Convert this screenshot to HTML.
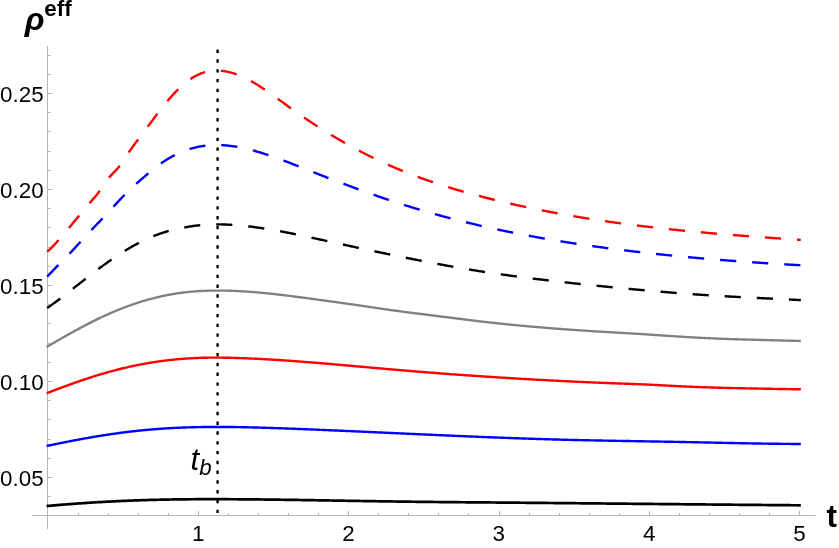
<!DOCTYPE html>
<html><head><meta charset="utf-8"><title>plot</title>
<style>
html,body{margin:0;padding:0;background:#fff;}
body{width:839px;height:548px;overflow:hidden;}
svg{display:block;}
text{font-family:"Liberation Sans",sans-serif;}
</style></head><body>
<svg width="839" height="548" viewBox="0 0 839 548">
<rect width="839" height="548" fill="#fff"/>
<g stroke="#b5b5b5" stroke-width="1" fill="none" shape-rendering="auto">
<line x1="32" y1="515.5" x2="815.6" y2="515.5"/>
<line x1="47.5" y1="46" x2="47.5" y2="529"/>
<line x1="78.50" y1="515.5" x2="78.50" y2="513.00"/>
<line x1="108.50" y1="515.5" x2="108.50" y2="513.00"/>
<line x1="138.50" y1="515.5" x2="138.50" y2="513.00"/>
<line x1="168.50" y1="515.5" x2="168.50" y2="513.00"/>
<line x1="198.50" y1="515.5" x2="198.50" y2="510.90"/>
<line x1="228.50" y1="515.5" x2="228.50" y2="513.00"/>
<line x1="258.50" y1="515.5" x2="258.50" y2="513.00"/>
<line x1="288.50" y1="515.5" x2="288.50" y2="513.00"/>
<line x1="318.50" y1="515.5" x2="318.50" y2="513.00"/>
<line x1="348.50" y1="515.5" x2="348.50" y2="510.90"/>
<line x1="378.50" y1="515.5" x2="378.50" y2="513.00"/>
<line x1="408.50" y1="515.5" x2="408.50" y2="513.00"/>
<line x1="438.50" y1="515.5" x2="438.50" y2="513.00"/>
<line x1="468.50" y1="515.5" x2="468.50" y2="513.00"/>
<line x1="499.50" y1="515.5" x2="499.50" y2="510.90"/>
<line x1="529.50" y1="515.5" x2="529.50" y2="513.00"/>
<line x1="559.50" y1="515.5" x2="559.50" y2="513.00"/>
<line x1="589.50" y1="515.5" x2="589.50" y2="513.00"/>
<line x1="619.50" y1="515.5" x2="619.50" y2="513.00"/>
<line x1="649.50" y1="515.5" x2="649.50" y2="510.90"/>
<line x1="679.50" y1="515.5" x2="679.50" y2="513.00"/>
<line x1="709.50" y1="515.5" x2="709.50" y2="513.00"/>
<line x1="739.50" y1="515.5" x2="739.50" y2="513.00"/>
<line x1="769.50" y1="515.5" x2="769.50" y2="513.00"/>
<line x1="799.50" y1="515.5" x2="799.50" y2="510.90"/>
<line x1="47.5" y1="496.50" x2="50.50" y2="496.50"/>
<line x1="47.5" y1="477.50" x2="52.70" y2="477.50"/>
<line x1="47.5" y1="458.50" x2="50.50" y2="458.50"/>
<line x1="47.5" y1="439.50" x2="50.50" y2="439.50"/>
<line x1="47.5" y1="419.50" x2="50.50" y2="419.50"/>
<line x1="47.5" y1="400.50" x2="50.50" y2="400.50"/>
<line x1="47.5" y1="381.50" x2="52.70" y2="381.50"/>
<line x1="47.5" y1="362.50" x2="50.50" y2="362.50"/>
<line x1="47.5" y1="343.50" x2="50.50" y2="343.50"/>
<line x1="47.5" y1="323.50" x2="50.50" y2="323.50"/>
<line x1="47.5" y1="304.50" x2="50.50" y2="304.50"/>
<line x1="47.5" y1="285.50" x2="52.70" y2="285.50"/>
<line x1="47.5" y1="266.50" x2="50.50" y2="266.50"/>
<line x1="47.5" y1="247.50" x2="50.50" y2="247.50"/>
<line x1="47.5" y1="227.50" x2="50.50" y2="227.50"/>
<line x1="47.5" y1="208.50" x2="50.50" y2="208.50"/>
<line x1="47.5" y1="189.50" x2="52.70" y2="189.50"/>
<line x1="47.5" y1="170.50" x2="50.50" y2="170.50"/>
<line x1="47.5" y1="151.50" x2="50.50" y2="151.50"/>
<line x1="47.5" y1="131.50" x2="50.50" y2="131.50"/>
<line x1="47.5" y1="112.50" x2="50.50" y2="112.50"/>
<line x1="47.5" y1="93.50" x2="52.70" y2="93.50"/>
<line x1="47.5" y1="74.50" x2="50.50" y2="74.50"/>
<line x1="47.5" y1="55.50" x2="50.50" y2="55.50"/>
</g>
<line x1="217.58" y1="49.55" x2="217.58" y2="513" stroke="#000" stroke-width="2.35" stroke-dasharray="3.4 6.39" fill="none"/>
<path d="M46.6 506.03 L47.0 505.99 L48.0 505.90 L49.0 505.82 L50.0 505.73 L51.0 505.64 L52.0 505.55 L53.0 505.47 L54.0 505.38 L55.0 505.30 L56.0 505.22 L57.0 505.13 L58.0 505.05 L59.0 504.97 L60.0 504.89 L61.0 504.80 L62.0 504.72 L63.0 504.64 L64.0 504.56 L65.0 504.49 L66.0 504.41 L67.0 504.33 L68.0 504.25 L69.0 504.18 L70.0 504.10 L71.0 504.03 L72.0 503.95 L73.0 503.88 L74.0 503.80 L75.0 503.73 L76.0 503.66 L77.0 503.59 L78.0 503.51 L79.0 503.44 L80.0 503.37 L81.0 503.30 L82.0 503.23 L83.0 503.17 L84.0 503.10 L85.0 503.03 L86.0 502.97 L87.0 502.90 L88.0 502.83 L89.0 502.77 L90.0 502.70 L91.0 502.64 L92.0 502.58 L93.0 502.52 L94.0 502.45 L95.0 502.39 L96.0 502.33 L97.0 502.27 L98.0 502.21 L99.0 502.15 L100.0 502.10 L101.0 502.04 L102.0 501.98 L103.0 501.92 L104.0 501.87 L105.0 501.81 L106.0 501.76 L107.0 501.70 L108.0 501.65 L109.0 501.60 L110.0 501.55 L111.0 501.49 L112.0 501.44 L113.0 501.39 L114.0 501.34 L115.0 501.29 L116.0 501.24 L117.0 501.20 L118.0 501.15 L119.0 501.10 L120.0 501.06 L121.0 501.01 L122.0 500.96 L123.0 500.92 L124.0 500.88 L125.0 500.83 L126.0 500.79 L127.0 500.75 L128.0 500.71 L129.0 500.67 L130.0 500.63 L131.0 500.59 L132.0 500.55 L133.0 500.51 L134.0 500.47 L135.0 500.44 L136.0 500.40 L137.0 500.36 L138.0 500.33 L139.0 500.29 L140.0 500.26 L141.0 500.23 L142.0 500.19 L143.0 500.16 L144.0 500.13 L145.0 500.10 L146.0 500.07 L147.0 500.04 L148.0 500.01 L149.0 499.98 L150.0 499.95 L151.0 499.93 L152.0 499.90 L153.0 499.87 L154.0 499.85 L155.0 499.82 L156.0 499.80 L157.0 499.77 L158.0 499.75 L159.0 499.73 L160.0 499.70 L161.0 499.68 L162.0 499.66 L163.0 499.64 L164.0 499.62 L165.0 499.60 L166.0 499.58 L167.0 499.56 L168.0 499.55 L169.0 499.53 L170.0 499.51 L171.0 499.49 L172.0 499.48 L173.0 499.46 L174.0 499.45 L175.0 499.43 L176.0 499.42 L177.0 499.40 L178.0 499.39 L179.0 499.38 L180.0 499.37 L181.0 499.35 L182.0 499.34 L183.0 499.33 L184.0 499.32 L185.0 499.31 L186.0 499.30 L187.0 499.29 L188.0 499.28 L189.0 499.27 L190.0 499.26 L191.0 499.26 L192.0 499.25 L193.0 499.24 L194.0 499.24 L195.0 499.23 L196.0 499.22 L197.0 499.22 L198.0 499.21 L199.0 499.21 L200.0 499.21 L201.0 499.20 L202.0 499.20 L203.0 499.20 L204.0 499.19 L205.0 499.19 L206.0 499.19 L207.0 499.19 L208.0 499.18 L209.0 499.18 L210.0 499.18 L211.0 499.18 L212.0 499.18 L213.0 499.18 L214.0 499.18 L215.0 499.18 L216.0 499.19 L217.0 499.19 L218.0 499.19 L219.0 499.19 L220.0 499.19 L221.0 499.20 L222.0 499.20 L223.0 499.20 L224.0 499.21 L225.0 499.21 L226.0 499.21 L227.0 499.22 L228.0 499.22 L229.0 499.23 L230.0 499.23 L231.0 499.24 L232.0 499.24 L233.0 499.25 L234.0 499.25 L235.0 499.26 L236.0 499.27 L237.0 499.27 L238.0 499.28 L239.0 499.29 L240.0 499.29 L241.0 499.30 L242.0 499.31 L243.0 499.32 L244.0 499.32 L245.0 499.33 L246.0 499.34 L247.0 499.35 L248.0 499.36 L249.0 499.37 L250.0 499.38 L251.0 499.39 L252.0 499.39 L253.0 499.40 L254.0 499.41 L255.0 499.42 L256.0 499.43 L257.0 499.44 L258.0 499.45 L259.0 499.46 L260.0 499.47 L261.0 499.49 L262.0 499.50 L263.0 499.51 L264.0 499.52 L265.0 499.53 L266.0 499.54 L267.0 499.55 L268.0 499.56 L269.0 499.58 L270.0 499.59 L271.0 499.60 L272.0 499.61 L273.0 499.63 L274.0 499.64 L275.0 499.65 L276.0 499.66 L277.0 499.68 L278.0 499.69 L279.0 499.70 L280.0 499.72 L281.0 499.73 L282.0 499.74 L283.0 499.76 L284.0 499.77 L285.0 499.78 L286.0 499.80 L287.0 499.81 L288.0 499.83 L289.0 499.84 L290.0 499.85 L291.0 499.87 L292.0 499.88 L293.0 499.90 L294.0 499.91 L295.0 499.93 L296.0 499.94 L297.0 499.96 L298.0 499.97 L299.0 499.99 L300.0 500.00 L301.0 500.02 L302.0 500.03 L303.0 500.05 L304.0 500.06 L305.0 500.08 L306.0 500.09 L307.0 500.11 L308.0 500.12 L309.0 500.14 L310.0 500.16 L311.0 500.17 L312.0 500.19 L313.0 500.20 L314.0 500.22 L315.0 500.24 L316.0 500.25 L317.0 500.27 L318.0 500.28 L319.0 500.30 L320.0 500.32 L321.0 500.33 L322.0 500.35 L323.0 500.37 L324.0 500.38 L325.0 500.40 L326.0 500.41 L327.0 500.43 L328.0 500.45 L329.0 500.46 L330.0 500.48 L331.0 500.50 L332.0 500.51 L333.0 500.53 L334.0 500.55 L335.0 500.56 L336.0 500.58 L337.0 500.60 L338.0 500.61 L339.0 500.63 L340.0 500.65 L341.0 500.66 L342.0 500.68 L343.0 500.70 L344.0 500.71 L345.0 500.73 L346.0 500.75 L347.0 500.76 L348.0 500.78 L349.0 500.80 L350.0 500.81 L351.0 500.83 L352.0 500.85 L353.0 500.86 L354.0 500.88 L355.0 500.89 L356.0 500.91 L357.0 500.93 L358.0 500.94 L359.0 500.96 L360.0 500.98 L361.0 500.99 L362.0 501.01 L363.0 501.03 L364.0 501.04 L365.0 501.06 L366.0 501.07 L367.0 501.09 L368.0 501.11 L369.0 501.12 L370.0 501.14 L371.0 501.15 L372.0 501.17 L373.0 501.18 L374.0 501.20 L375.0 501.22 L376.0 501.23 L377.0 501.25 L378.0 501.26 L379.0 501.28 L380.0 501.29 L381.0 501.31 L382.0 501.32 L383.0 501.34 L384.0 501.35 L385.0 501.37 L386.0 501.38 L387.0 501.40 L388.0 501.41 L389.0 501.43 L390.0 501.44 L391.0 501.45 L392.0 501.47 L393.0 501.48 L394.0 501.50 L395.0 501.51 L396.0 501.52 L397.0 501.54 L398.0 501.55 L399.0 501.56 L400.0 501.58 L401.0 501.59 L402.0 501.60 L403.0 501.62 L404.0 501.63 L405.0 501.64 L406.0 501.66 L407.0 501.67 L408.0 501.68 L409.0 501.69 L410.0 501.71 L411.0 501.72 L412.0 501.73 L413.0 501.74 L414.0 501.76 L415.0 501.77 L416.0 501.78 L417.0 501.79 L418.0 501.80 L419.0 501.82 L420.0 501.83 L421.0 501.84 L422.0 501.85 L423.0 501.86 L424.0 501.87 L425.0 501.88 L426.0 501.90 L427.0 501.91 L428.0 501.92 L429.0 501.93 L430.0 501.94 L431.0 501.95 L432.0 501.96 L433.0 501.97 L434.0 501.98 L435.0 501.99 L436.0 502.00 L437.0 502.01 L438.0 502.02 L439.0 502.03 L440.0 502.04 L441.0 502.05 L442.0 502.06 L443.0 502.07 L444.0 502.08 L445.0 502.09 L446.0 502.10 L447.0 502.11 L448.0 502.12 L449.0 502.13 L450.0 502.14 L451.0 502.15 L452.0 502.16 L453.0 502.17 L454.0 502.17 L455.0 502.18 L456.0 502.19 L457.0 502.20 L458.0 502.21 L459.0 502.22 L460.0 502.23 L461.0 502.24 L462.0 502.24 L463.0 502.25 L464.0 502.26 L465.0 502.27 L466.0 502.28 L467.0 502.29 L468.0 502.29 L469.0 502.30 L470.0 502.31 L471.0 502.32 L472.0 502.33 L473.0 502.33 L474.0 502.34 L475.0 502.35 L476.0 502.36 L477.0 502.37 L478.0 502.38 L479.0 502.38 L480.0 502.39 L481.0 502.40 L482.0 502.41 L483.0 502.42 L484.0 502.42 L485.0 502.43 L486.0 502.44 L487.0 502.45 L488.0 502.46 L489.0 502.46 L490.0 502.47 L491.0 502.48 L492.0 502.49 L493.0 502.50 L494.0 502.51 L495.0 502.51 L496.0 502.52 L497.0 502.53 L498.0 502.54 L499.0 502.55 L500.0 502.56 L501.0 502.56 L502.0 502.57 L503.0 502.58 L504.0 502.59 L505.0 502.60 L506.0 502.61 L507.0 502.61 L508.0 502.62 L509.0 502.63 L510.0 502.64 L511.0 502.65 L512.0 502.66 L513.0 502.67 L514.0 502.67 L515.0 502.68 L516.0 502.69 L517.0 502.70 L518.0 502.71 L519.0 502.72 L520.0 502.73 L521.0 502.73 L522.0 502.74 L523.0 502.75 L524.0 502.76 L525.0 502.77 L526.0 502.78 L527.0 502.79 L528.0 502.80 L529.0 502.80 L530.0 502.81 L531.0 502.82 L532.0 502.83 L533.0 502.84 L534.0 502.85 L535.0 502.86 L536.0 502.87 L537.0 502.88 L538.0 502.88 L539.0 502.89 L540.0 502.90 L541.0 502.91 L542.0 502.92 L543.0 502.93 L544.0 502.94 L545.0 502.95 L546.0 502.96 L547.0 502.97 L548.0 502.98 L549.0 502.98 L550.0 502.99 L551.0 503.00 L552.0 503.01 L553.0 503.02 L554.0 503.03 L555.0 503.04 L556.0 503.05 L557.0 503.06 L558.0 503.07 L559.0 503.08 L560.0 503.09 L561.0 503.09 L562.0 503.10 L563.0 503.11 L564.0 503.12 L565.0 503.13 L566.0 503.14 L567.0 503.15 L568.0 503.16 L569.0 503.17 L570.0 503.18 L571.0 503.19 L572.0 503.20 L573.0 503.21 L574.0 503.22 L575.0 503.22 L576.0 503.23 L577.0 503.24 L578.0 503.25 L579.0 503.26 L580.0 503.27 L581.0 503.28 L582.0 503.29 L583.0 503.30 L584.0 503.31 L585.0 503.32 L586.0 503.33 L587.0 503.34 L588.0 503.35 L589.0 503.36 L590.0 503.37 L591.0 503.38 L592.0 503.39 L593.0 503.40 L594.0 503.40 L595.0 503.41 L596.0 503.42 L597.0 503.43 L598.0 503.44 L599.0 503.45 L600.0 503.46 L601.0 503.47 L602.0 503.48 L603.0 503.49 L604.0 503.50 L605.0 503.51 L606.0 503.52 L607.0 503.53 L608.0 503.54 L609.0 503.55 L610.0 503.56 L611.0 503.57 L612.0 503.58 L613.0 503.59 L614.0 503.60 L615.0 503.61 L616.0 503.62 L617.0 503.62 L618.0 503.63 L619.0 503.64 L620.0 503.65 L621.0 503.66 L622.0 503.67 L623.0 503.68 L624.0 503.69 L625.0 503.70 L626.0 503.71 L627.0 503.72 L628.0 503.73 L629.0 503.74 L630.0 503.75 L631.0 503.76 L632.0 503.77 L633.0 503.78 L634.0 503.79 L635.0 503.80 L636.0 503.81 L637.0 503.82 L638.0 503.83 L639.0 503.84 L640.0 503.85 L641.0 503.86 L642.0 503.87 L643.0 503.88 L644.0 503.89 L645.0 503.90 L646.0 503.90 L647.0 503.91 L648.0 503.92 L649.0 503.93 L650.0 503.94 L651.0 503.95 L652.0 503.96 L653.0 503.97 L654.0 503.98 L655.0 503.99 L656.0 504.00 L657.0 504.01 L658.0 504.02 L659.0 504.03 L660.0 504.04 L661.0 504.05 L662.0 504.06 L663.0 504.07 L664.0 504.08 L665.0 504.09 L666.0 504.10 L667.0 504.11 L668.0 504.12 L669.0 504.13 L670.0 504.14 L671.0 504.15 L672.0 504.16 L673.0 504.16 L674.0 504.17 L675.0 504.18 L676.0 504.19 L677.0 504.20 L678.0 504.21 L679.0 504.22 L680.0 504.23 L681.0 504.24 L682.0 504.25 L683.0 504.26 L684.0 504.27 L685.0 504.28 L686.0 504.29 L687.0 504.30 L688.0 504.31 L689.0 504.32 L690.0 504.33 L691.0 504.34 L692.0 504.35 L693.0 504.36 L694.0 504.36 L695.0 504.37 L696.0 504.38 L697.0 504.39 L698.0 504.40 L699.0 504.41 L700.0 504.42 L701.0 504.43 L702.0 504.44 L703.0 504.45 L704.0 504.46 L705.0 504.47 L706.0 504.48 L707.0 504.49 L708.0 504.50 L709.0 504.51 L710.0 504.52 L711.0 504.52 L712.0 504.53 L713.0 504.54 L714.0 504.55 L715.0 504.56 L716.0 504.57 L717.0 504.58 L718.0 504.59 L719.0 504.60 L720.0 504.61 L721.0 504.62 L722.0 504.63 L723.0 504.64 L724.0 504.64 L725.0 504.65 L726.0 504.66 L727.0 504.67 L728.0 504.68 L729.0 504.69 L730.0 504.70 L731.0 504.71 L732.0 504.72 L733.0 504.73 L734.0 504.74 L735.0 504.74 L736.0 504.75 L737.0 504.76 L738.0 504.77 L739.0 504.78 L740.0 504.79 L741.0 504.80 L742.0 504.81 L743.0 504.82 L744.0 504.83 L745.0 504.83 L746.0 504.84 L747.0 504.85 L748.0 504.86 L749.0 504.87 L750.0 504.88 L751.0 504.89 L752.0 504.90 L753.0 504.91 L754.0 504.91 L755.0 504.92 L756.0 504.93 L757.0 504.94 L758.0 504.95 L759.0 504.96 L760.0 504.97 L761.0 504.97 L762.0 504.98 L763.0 504.99 L764.0 505.00 L765.0 505.01 L766.0 505.02 L767.0 505.03 L768.0 505.04 L769.0 505.04 L770.0 505.05 L771.0 505.06 L772.0 505.07 L773.0 505.08 L774.0 505.09 L775.0 505.09 L776.0 505.10 L777.0 505.11 L778.0 505.12 L779.0 505.13 L780.0 505.14 L781.0 505.14 L782.0 505.15 L783.0 505.16 L784.0 505.17 L785.0 505.18 L786.0 505.19 L787.0 505.19 L788.0 505.20 L789.0 505.21 L790.0 505.22 L791.0 505.23 L792.0 505.23 L793.0 505.24 L794.0 505.25 L795.0 505.26 L796.0 505.27 L797.0 505.27 L798.0 505.28 L799.0 505.29 L800.0 505.30 L800.8 505.30" stroke="#000000" stroke-width="2.7" fill="none" stroke-linejoin="round"/>
<path d="M46.6 446.00 L47.0 445.91 L48.0 445.70 L49.0 445.49 L50.0 445.28 L51.0 445.07 L52.0 444.86 L53.0 444.65 L54.0 444.44 L55.0 444.23 L56.0 444.03 L57.0 443.82 L58.0 443.62 L59.0 443.41 L60.0 443.21 L61.0 443.01 L62.0 442.80 L63.0 442.60 L64.0 442.40 L65.0 442.20 L66.0 442.00 L67.0 441.81 L68.0 441.61 L69.0 441.42 L70.0 441.22 L71.0 441.03 L72.0 440.83 L73.0 440.64 L74.0 440.45 L75.0 440.26 L76.0 440.07 L77.0 439.88 L78.0 439.70 L79.0 439.51 L80.0 439.33 L81.0 439.14 L82.0 438.96 L83.0 438.78 L84.0 438.60 L85.0 438.42 L86.0 438.24 L87.0 438.06 L88.0 437.89 L89.0 437.71 L90.0 437.54 L91.0 437.37 L92.0 437.19 L93.0 437.02 L94.0 436.85 L95.0 436.69 L96.0 436.52 L97.0 436.35 L98.0 436.19 L99.0 436.03 L100.0 435.87 L101.0 435.71 L102.0 435.55 L103.0 435.39 L104.0 435.23 L105.0 435.08 L106.0 434.92 L107.0 434.77 L108.0 434.62 L109.0 434.47 L110.0 434.32 L111.0 434.17 L112.0 434.03 L113.0 433.88 L114.0 433.74 L115.0 433.60 L116.0 433.46 L117.0 433.32 L118.0 433.19 L119.0 433.05 L120.0 432.92 L121.0 432.78 L122.0 432.65 L123.0 432.52 L124.0 432.40 L125.0 432.27 L126.0 432.14 L127.0 432.02 L128.0 431.90 L129.0 431.78 L130.0 431.66 L131.0 431.54 L132.0 431.43 L133.0 431.31 L134.0 431.20 L135.0 431.09 L136.0 430.98 L137.0 430.87 L138.0 430.77 L139.0 430.66 L140.0 430.56 L141.0 430.46 L142.0 430.35 L143.0 430.26 L144.0 430.16 L145.0 430.06 L146.0 429.97 L147.0 429.88 L148.0 429.79 L149.0 429.70 L150.0 429.61 L151.0 429.52 L152.0 429.44 L153.0 429.35 L154.0 429.27 L155.0 429.19 L156.0 429.11 L157.0 429.04 L158.0 428.96 L159.0 428.89 L160.0 428.81 L161.0 428.74 L162.0 428.68 L163.0 428.61 L164.0 428.54 L165.0 428.48 L166.0 428.41 L167.0 428.35 L168.0 428.29 L169.0 428.23 L170.0 428.18 L171.0 428.12 L172.0 428.07 L173.0 428.01 L174.0 427.96 L175.0 427.91 L176.0 427.87 L177.0 427.82 L178.0 427.77 L179.0 427.73 L180.0 427.69 L181.0 427.64 L182.0 427.60 L183.0 427.56 L184.0 427.53 L185.0 427.49 L186.0 427.46 L187.0 427.42 L188.0 427.39 L189.0 427.36 L190.0 427.33 L191.0 427.30 L192.0 427.27 L193.0 427.24 L194.0 427.22 L195.0 427.20 L196.0 427.17 L197.0 427.15 L198.0 427.13 L199.0 427.11 L200.0 427.09 L201.0 427.08 L202.0 427.06 L203.0 427.04 L204.0 427.03 L205.0 427.02 L206.0 427.01 L207.0 426.99 L208.0 426.98 L209.0 426.98 L210.0 426.97 L211.0 426.96 L212.0 426.95 L213.0 426.95 L214.0 426.95 L215.0 426.94 L216.0 426.94 L217.0 426.94 L218.0 426.94 L219.0 426.94 L220.0 426.94 L221.0 426.94 L222.0 426.95 L223.0 426.95 L224.0 426.96 L225.0 426.96 L226.0 426.97 L227.0 426.98 L228.0 426.99 L229.0 427.00 L230.0 427.01 L231.0 427.02 L232.0 427.03 L233.0 427.04 L234.0 427.05 L235.0 427.07 L236.0 427.08 L237.0 427.10 L238.0 427.11 L239.0 427.13 L240.0 427.15 L241.0 427.16 L242.0 427.18 L243.0 427.20 L244.0 427.22 L245.0 427.24 L246.0 427.26 L247.0 427.29 L248.0 427.31 L249.0 427.33 L250.0 427.35 L251.0 427.38 L252.0 427.40 L253.0 427.43 L254.0 427.45 L255.0 427.48 L256.0 427.51 L257.0 427.53 L258.0 427.56 L259.0 427.59 L260.0 427.62 L261.0 427.65 L262.0 427.68 L263.0 427.71 L264.0 427.74 L265.0 427.77 L266.0 427.80 L267.0 427.83 L268.0 427.86 L269.0 427.89 L270.0 427.93 L271.0 427.96 L272.0 427.99 L273.0 428.02 L274.0 428.06 L275.0 428.09 L276.0 428.13 L277.0 428.16 L278.0 428.20 L279.0 428.23 L280.0 428.27 L281.0 428.30 L282.0 428.34 L283.0 428.37 L284.0 428.41 L285.0 428.45 L286.0 428.48 L287.0 428.52 L288.0 428.56 L289.0 428.60 L290.0 428.63 L291.0 428.67 L292.0 428.71 L293.0 428.75 L294.0 428.79 L295.0 428.82 L296.0 428.86 L297.0 428.90 L298.0 428.94 L299.0 428.98 L300.0 429.02 L301.0 429.06 L302.0 429.10 L303.0 429.14 L304.0 429.18 L305.0 429.22 L306.0 429.26 L307.0 429.30 L308.0 429.34 L309.0 429.38 L310.0 429.42 L311.0 429.46 L312.0 429.50 L313.0 429.54 L314.0 429.59 L315.0 429.63 L316.0 429.67 L317.0 429.71 L318.0 429.75 L319.0 429.79 L320.0 429.84 L321.0 429.88 L322.0 429.92 L323.0 429.96 L324.0 430.00 L325.0 430.05 L326.0 430.09 L327.0 430.13 L328.0 430.17 L329.0 430.22 L330.0 430.26 L331.0 430.30 L332.0 430.35 L333.0 430.39 L334.0 430.43 L335.0 430.48 L336.0 430.52 L337.0 430.56 L338.0 430.61 L339.0 430.65 L340.0 430.69 L341.0 430.74 L342.0 430.78 L343.0 430.82 L344.0 430.87 L345.0 430.91 L346.0 430.95 L347.0 431.00 L348.0 431.04 L349.0 431.09 L350.0 431.13 L351.0 431.17 L352.0 431.22 L353.0 431.26 L354.0 431.31 L355.0 431.35 L356.0 431.40 L357.0 431.44 L358.0 431.48 L359.0 431.53 L360.0 431.57 L361.0 431.62 L362.0 431.66 L363.0 431.71 L364.0 431.75 L365.0 431.80 L366.0 431.84 L367.0 431.89 L368.0 431.93 L369.0 431.98 L370.0 432.02 L371.0 432.07 L372.0 432.11 L373.0 432.16 L374.0 432.20 L375.0 432.25 L376.0 432.29 L377.0 432.34 L378.0 432.38 L379.0 432.43 L380.0 432.47 L381.0 432.52 L382.0 432.56 L383.0 432.61 L384.0 432.65 L385.0 432.70 L386.0 432.74 L387.0 432.79 L388.0 432.83 L389.0 432.88 L390.0 432.93 L391.0 432.97 L392.0 433.02 L393.0 433.06 L394.0 433.11 L395.0 433.15 L396.0 433.20 L397.0 433.24 L398.0 433.29 L399.0 433.33 L400.0 433.38 L401.0 433.43 L402.0 433.47 L403.0 433.52 L404.0 433.56 L405.0 433.61 L406.0 433.65 L407.0 433.70 L408.0 433.74 L409.0 433.79 L410.0 433.83 L411.0 433.88 L412.0 433.92 L413.0 433.97 L414.0 434.02 L415.0 434.06 L416.0 434.11 L417.0 434.15 L418.0 434.20 L419.0 434.24 L420.0 434.29 L421.0 434.33 L422.0 434.38 L423.0 434.42 L424.0 434.47 L425.0 434.51 L426.0 434.56 L427.0 434.60 L428.0 434.65 L429.0 434.69 L430.0 434.74 L431.0 434.78 L432.0 434.82 L433.0 434.87 L434.0 434.91 L435.0 434.96 L436.0 435.00 L437.0 435.05 L438.0 435.09 L439.0 435.14 L440.0 435.18 L441.0 435.22 L442.0 435.27 L443.0 435.31 L444.0 435.36 L445.0 435.40 L446.0 435.44 L447.0 435.49 L448.0 435.53 L449.0 435.57 L450.0 435.62 L451.0 435.66 L452.0 435.70 L453.0 435.75 L454.0 435.79 L455.0 435.83 L456.0 435.88 L457.0 435.92 L458.0 435.96 L459.0 436.00 L460.0 436.05 L461.0 436.09 L462.0 436.13 L463.0 436.17 L464.0 436.22 L465.0 436.26 L466.0 436.30 L467.0 436.34 L468.0 436.38 L469.0 436.43 L470.0 436.47 L471.0 436.51 L472.0 436.55 L473.0 436.59 L474.0 436.63 L475.0 436.67 L476.0 436.72 L477.0 436.76 L478.0 436.80 L479.0 436.84 L480.0 436.88 L481.0 436.92 L482.0 436.96 L483.0 437.00 L484.0 437.04 L485.0 437.08 L486.0 437.12 L487.0 437.16 L488.0 437.20 L489.0 437.24 L490.0 437.28 L491.0 437.32 L492.0 437.35 L493.0 437.39 L494.0 437.43 L495.0 437.47 L496.0 437.51 L497.0 437.55 L498.0 437.59 L499.0 437.62 L500.0 437.66 L501.0 437.70 L502.0 437.74 L503.0 437.77 L504.0 437.81 L505.0 437.85 L506.0 437.89 L507.0 437.92 L508.0 437.96 L509.0 438.00 L510.0 438.03 L511.0 438.07 L512.0 438.10 L513.0 438.14 L514.0 438.18 L515.0 438.21 L516.0 438.25 L517.0 438.28 L518.0 438.32 L519.0 438.35 L520.0 438.39 L521.0 438.42 L522.0 438.46 L523.0 438.49 L524.0 438.52 L525.0 438.56 L526.0 438.59 L527.0 438.62 L528.0 438.66 L529.0 438.69 L530.0 438.72 L531.0 438.76 L532.0 438.79 L533.0 438.82 L534.0 438.85 L535.0 438.89 L536.0 438.92 L537.0 438.95 L538.0 438.98 L539.0 439.01 L540.0 439.04 L541.0 439.07 L542.0 439.11 L543.0 439.14 L544.0 439.17 L545.0 439.20 L546.0 439.23 L547.0 439.26 L548.0 439.28 L549.0 439.31 L550.0 439.34 L551.0 439.37 L552.0 439.40 L553.0 439.43 L554.0 439.46 L555.0 439.49 L556.0 439.51 L557.0 439.54 L558.0 439.57 L559.0 439.60 L560.0 439.62 L561.0 439.65 L562.0 439.68 L563.0 439.70 L564.0 439.73 L565.0 439.75 L566.0 439.78 L567.0 439.80 L568.0 439.83 L569.0 439.85 L570.0 439.88 L571.0 439.90 L572.0 439.93 L573.0 439.95 L574.0 439.97 L575.0 440.00 L576.0 440.02 L577.0 440.05 L578.0 440.07 L579.0 440.09 L580.0 440.11 L581.0 440.14 L582.0 440.16 L583.0 440.18 L584.0 440.20 L585.0 440.22 L586.0 440.25 L587.0 440.27 L588.0 440.29 L589.0 440.31 L590.0 440.33 L591.0 440.35 L592.0 440.37 L593.0 440.39 L594.0 440.41 L595.0 440.43 L596.0 440.45 L597.0 440.47 L598.0 440.49 L599.0 440.51 L600.0 440.53 L601.0 440.55 L602.0 440.57 L603.0 440.59 L604.0 440.61 L605.0 440.63 L606.0 440.65 L607.0 440.67 L608.0 440.68 L609.0 440.70 L610.0 440.72 L611.0 440.74 L612.0 440.76 L613.0 440.78 L614.0 440.79 L615.0 440.81 L616.0 440.83 L617.0 440.85 L618.0 440.86 L619.0 440.88 L620.0 440.90 L621.0 440.92 L622.0 440.94 L623.0 440.95 L624.0 440.97 L625.0 440.99 L626.0 441.00 L627.0 441.02 L628.0 441.04 L629.0 441.06 L630.0 441.07 L631.0 441.09 L632.0 441.11 L633.0 441.13 L634.0 441.14 L635.0 441.16 L636.0 441.18 L637.0 441.19 L638.0 441.21 L639.0 441.23 L640.0 441.24 L641.0 441.26 L642.0 441.28 L643.0 441.29 L644.0 441.31 L645.0 441.33 L646.0 441.35 L647.0 441.36 L648.0 441.38 L649.0 441.40 L650.0 441.41 L651.0 441.43 L652.0 441.45 L653.0 441.47 L654.0 441.48 L655.0 441.50 L656.0 441.52 L657.0 441.53 L658.0 441.55 L659.0 441.57 L660.0 441.59 L661.0 441.60 L662.0 441.62 L663.0 441.64 L664.0 441.66 L665.0 441.68 L666.0 441.69 L667.0 441.71 L668.0 441.73 L669.0 441.75 L670.0 441.77 L671.0 441.78 L672.0 441.80 L673.0 441.82 L674.0 441.84 L675.0 441.86 L676.0 441.88 L677.0 441.90 L678.0 441.92 L679.0 441.94 L680.0 441.95 L681.0 441.97 L682.0 441.99 L683.0 442.01 L684.0 442.03 L685.0 442.05 L686.0 442.07 L687.0 442.09 L688.0 442.11 L689.0 442.13 L690.0 442.15 L691.0 442.17 L692.0 442.19 L693.0 442.21 L694.0 442.24 L695.0 442.26 L696.0 442.28 L697.0 442.30 L698.0 442.32 L699.0 442.34 L700.0 442.36 L701.0 442.38 L702.0 442.40 L703.0 442.42 L704.0 442.44 L705.0 442.47 L706.0 442.49 L707.0 442.51 L708.0 442.53 L709.0 442.55 L710.0 442.57 L711.0 442.59 L712.0 442.61 L713.0 442.64 L714.0 442.66 L715.0 442.68 L716.0 442.70 L717.0 442.72 L718.0 442.74 L719.0 442.76 L720.0 442.78 L721.0 442.80 L722.0 442.82 L723.0 442.85 L724.0 442.87 L725.0 442.89 L726.0 442.91 L727.0 442.93 L728.0 442.95 L729.0 442.97 L730.0 442.99 L731.0 443.01 L732.0 443.03 L733.0 443.05 L734.0 443.07 L735.0 443.09 L736.0 443.11 L737.0 443.13 L738.0 443.15 L739.0 443.17 L740.0 443.19 L741.0 443.21 L742.0 443.23 L743.0 443.25 L744.0 443.26 L745.0 443.28 L746.0 443.30 L747.0 443.32 L748.0 443.34 L749.0 443.36 L750.0 443.38 L751.0 443.39 L752.0 443.41 L753.0 443.43 L754.0 443.45 L755.0 443.46 L756.0 443.48 L757.0 443.50 L758.0 443.51 L759.0 443.53 L760.0 443.55 L761.0 443.56 L762.0 443.58 L763.0 443.59 L764.0 443.61 L765.0 443.62 L766.0 443.64 L767.0 443.65 L768.0 443.67 L769.0 443.68 L770.0 443.70 L771.0 443.71 L772.0 443.72 L773.0 443.74 L774.0 443.75 L775.0 443.76 L776.0 443.77 L777.0 443.79 L778.0 443.80 L779.0 443.81 L780.0 443.82 L781.0 443.83 L782.0 443.84 L783.0 443.85 L784.0 443.86 L785.0 443.87 L786.0 443.88 L787.0 443.89 L788.0 443.90 L789.0 443.91 L790.0 443.92 L791.0 443.93 L792.0 443.94 L793.0 443.94 L794.0 443.95 L795.0 443.96 L796.0 443.96 L797.0 443.97 L798.0 443.98 L799.0 443.98 L800.0 443.99 L800.8 443.99" stroke="#0000ff" stroke-width="2.4" fill="none" stroke-linejoin="round"/>
<path d="M46.6 393.16 L47.0 393.01 L48.0 392.63 L49.0 392.26 L50.0 391.89 L51.0 391.51 L52.0 391.14 L53.0 390.77 L54.0 390.39 L55.0 390.02 L56.0 389.65 L57.0 389.27 L58.0 388.90 L59.0 388.53 L60.0 388.16 L61.0 387.79 L62.0 387.42 L63.0 387.05 L64.0 386.68 L65.0 386.32 L66.0 385.95 L67.0 385.59 L68.0 385.22 L69.0 384.86 L70.0 384.50 L71.0 384.14 L72.0 383.78 L73.0 383.42 L74.0 383.07 L75.0 382.71 L76.0 382.36 L77.0 382.01 L78.0 381.66 L79.0 381.31 L80.0 380.97 L81.0 380.62 L82.0 380.28 L83.0 379.94 L84.0 379.60 L85.0 379.26 L86.0 378.93 L87.0 378.60 L88.0 378.27 L89.0 377.94 L90.0 377.62 L91.0 377.30 L92.0 376.98 L93.0 376.66 L94.0 376.34 L95.0 376.03 L96.0 375.72 L97.0 375.41 L98.0 375.11 L99.0 374.80 L100.0 374.50 L101.0 374.21 L102.0 373.91 L103.0 373.62 L104.0 373.33 L105.0 373.04 L106.0 372.75 L107.0 372.47 L108.0 372.19 L109.0 371.91 L110.0 371.63 L111.0 371.36 L112.0 371.09 L113.0 370.82 L114.0 370.56 L115.0 370.30 L116.0 370.04 L117.0 369.78 L118.0 369.52 L119.0 369.27 L120.0 369.02 L121.0 368.77 L122.0 368.53 L123.0 368.29 L124.0 368.05 L125.0 367.81 L126.0 367.58 L127.0 367.35 L128.0 367.12 L129.0 366.89 L130.0 366.67 L131.0 366.45 L132.0 366.23 L133.0 366.02 L134.0 365.81 L135.0 365.60 L136.0 365.39 L137.0 365.19 L138.0 364.99 L139.0 364.79 L140.0 364.60 L141.0 364.40 L142.0 364.21 L143.0 364.03 L144.0 363.84 L145.0 363.66 L146.0 363.48 L147.0 363.31 L148.0 363.14 L149.0 362.97 L150.0 362.80 L151.0 362.64 L152.0 362.47 L153.0 362.31 L154.0 362.16 L155.0 362.01 L156.0 361.86 L157.0 361.71 L158.0 361.56 L159.0 361.42 L160.0 361.28 L161.0 361.14 L162.0 361.01 L163.0 360.88 L164.0 360.75 L165.0 360.62 L166.0 360.50 L167.0 360.38 L168.0 360.26 L169.0 360.15 L170.0 360.03 L171.0 359.92 L172.0 359.82 L173.0 359.71 L174.0 359.61 L175.0 359.51 L176.0 359.41 L177.0 359.32 L178.0 359.23 L179.0 359.14 L180.0 359.05 L181.0 358.97 L182.0 358.89 L183.0 358.81 L184.0 358.73 L185.0 358.66 L186.0 358.59 L187.0 358.52 L188.0 358.46 L189.0 358.39 L190.0 358.33 L191.0 358.28 L192.0 358.22 L193.0 358.17 L194.0 358.12 L195.0 358.07 L196.0 358.03 L197.0 357.98 L198.0 357.94 L199.0 357.91 L200.0 357.87 L201.0 357.84 L202.0 357.81 L203.0 357.78 L204.0 357.75 L205.0 357.73 L206.0 357.71 L207.0 357.69 L208.0 357.68 L209.0 357.66 L210.0 357.65 L211.0 357.64 L212.0 357.63 L213.0 357.63 L214.0 357.62 L215.0 357.62 L216.0 357.62 L217.0 357.63 L218.0 357.63 L219.0 357.64 L220.0 357.64 L221.0 357.65 L222.0 357.66 L223.0 357.68 L224.0 357.69 L225.0 357.71 L226.0 357.72 L227.0 357.74 L228.0 357.76 L229.0 357.78 L230.0 357.81 L231.0 357.83 L232.0 357.86 L233.0 357.88 L234.0 357.91 L235.0 357.94 L236.0 357.97 L237.0 358.00 L238.0 358.03 L239.0 358.07 L240.0 358.10 L241.0 358.13 L242.0 358.17 L243.0 358.21 L244.0 358.25 L245.0 358.28 L246.0 358.32 L247.0 358.36 L248.0 358.41 L249.0 358.45 L250.0 358.49 L251.0 358.53 L252.0 358.58 L253.0 358.63 L254.0 358.67 L255.0 358.72 L256.0 358.77 L257.0 358.82 L258.0 358.86 L259.0 358.92 L260.0 358.97 L261.0 359.02 L262.0 359.07 L263.0 359.12 L264.0 359.18 L265.0 359.23 L266.0 359.29 L267.0 359.34 L268.0 359.40 L269.0 359.46 L270.0 359.52 L271.0 359.58 L272.0 359.64 L273.0 359.70 L274.0 359.76 L275.0 359.82 L276.0 359.88 L277.0 359.94 L278.0 360.01 L279.0 360.07 L280.0 360.14 L281.0 360.20 L282.0 360.27 L283.0 360.34 L284.0 360.40 L285.0 360.47 L286.0 360.54 L287.0 360.61 L288.0 360.68 L289.0 360.75 L290.0 360.82 L291.0 360.89 L292.0 360.96 L293.0 361.03 L294.0 361.11 L295.0 361.18 L296.0 361.25 L297.0 361.33 L298.0 361.40 L299.0 361.48 L300.0 361.55 L301.0 361.63 L302.0 361.70 L303.0 361.78 L304.0 361.86 L305.0 361.93 L306.0 362.01 L307.0 362.09 L308.0 362.17 L309.0 362.25 L310.0 362.33 L311.0 362.41 L312.0 362.49 L313.0 362.57 L314.0 362.65 L315.0 362.73 L316.0 362.81 L317.0 362.90 L318.0 362.98 L319.0 363.06 L320.0 363.14 L321.0 363.23 L322.0 363.31 L323.0 363.39 L324.0 363.48 L325.0 363.56 L326.0 363.65 L327.0 363.73 L328.0 363.82 L329.0 363.90 L330.0 363.99 L331.0 364.07 L332.0 364.16 L333.0 364.25 L334.0 364.33 L335.0 364.42 L336.0 364.50 L337.0 364.59 L338.0 364.68 L339.0 364.77 L340.0 364.85 L341.0 364.94 L342.0 365.03 L343.0 365.12 L344.0 365.20 L345.0 365.29 L346.0 365.38 L347.0 365.47 L348.0 365.56 L349.0 365.64 L350.0 365.73 L351.0 365.82 L352.0 365.91 L353.0 366.00 L354.0 366.09 L355.0 366.18 L356.0 366.26 L357.0 366.35 L358.0 366.44 L359.0 366.53 L360.0 366.62 L361.0 366.71 L362.0 366.80 L363.0 366.89 L364.0 366.97 L365.0 367.06 L366.0 367.15 L367.0 367.24 L368.0 367.33 L369.0 367.42 L370.0 367.51 L371.0 367.60 L372.0 367.68 L373.0 367.77 L374.0 367.86 L375.0 367.95 L376.0 368.04 L377.0 368.13 L378.0 368.21 L379.0 368.30 L380.0 368.39 L381.0 368.48 L382.0 368.57 L383.0 368.65 L384.0 368.74 L385.0 368.83 L386.0 368.92 L387.0 369.00 L388.0 369.09 L389.0 369.18 L390.0 369.26 L391.0 369.35 L392.0 369.44 L393.0 369.52 L394.0 369.61 L395.0 369.69 L396.0 369.78 L397.0 369.87 L398.0 369.95 L399.0 370.04 L400.0 370.12 L401.0 370.21 L402.0 370.29 L403.0 370.37 L404.0 370.46 L405.0 370.54 L406.0 370.63 L407.0 370.71 L408.0 370.79 L409.0 370.88 L410.0 370.96 L411.0 371.04 L412.0 371.13 L413.0 371.21 L414.0 371.29 L415.0 371.37 L416.0 371.45 L417.0 371.54 L418.0 371.62 L419.0 371.70 L420.0 371.78 L421.0 371.86 L422.0 371.94 L423.0 372.02 L424.0 372.10 L425.0 372.18 L426.0 372.26 L427.0 372.34 L428.0 372.42 L429.0 372.50 L430.0 372.58 L431.0 372.66 L432.0 372.73 L433.0 372.81 L434.0 372.89 L435.0 372.97 L436.0 373.05 L437.0 373.12 L438.0 373.20 L439.0 373.28 L440.0 373.35 L441.0 373.43 L442.0 373.51 L443.0 373.58 L444.0 373.66 L445.0 373.73 L446.0 373.81 L447.0 373.88 L448.0 373.96 L449.0 374.03 L450.0 374.11 L451.0 374.18 L452.0 374.25 L453.0 374.33 L454.0 374.40 L455.0 374.47 L456.0 374.55 L457.0 374.62 L458.0 374.69 L459.0 374.76 L460.0 374.83 L461.0 374.91 L462.0 374.98 L463.0 375.05 L464.0 375.12 L465.0 375.19 L466.0 375.26 L467.0 375.33 L468.0 375.40 L469.0 375.47 L470.0 375.54 L471.0 375.61 L472.0 375.68 L473.0 375.74 L474.0 375.81 L475.0 375.88 L476.0 375.95 L477.0 376.02 L478.0 376.08 L479.0 376.15 L480.0 376.22 L481.0 376.29 L482.0 376.35 L483.0 376.42 L484.0 376.49 L485.0 376.55 L486.0 376.62 L487.0 376.68 L488.0 376.75 L489.0 376.81 L490.0 376.88 L491.0 376.94 L492.0 377.01 L493.0 377.07 L494.0 377.13 L495.0 377.20 L496.0 377.26 L497.0 377.33 L498.0 377.39 L499.0 377.45 L500.0 377.51 L501.0 377.58 L502.0 377.64 L503.0 377.70 L504.0 377.76 L505.0 377.82 L506.0 377.89 L507.0 377.95 L508.0 378.01 L509.0 378.07 L510.0 378.13 L511.0 378.19 L512.0 378.25 L513.0 378.31 L514.0 378.37 L515.0 378.43 L516.0 378.49 L517.0 378.55 L518.0 378.61 L519.0 378.66 L520.0 378.72 L521.0 378.78 L522.0 378.84 L523.0 378.90 L524.0 378.95 L525.0 379.01 L526.0 379.07 L527.0 379.13 L528.0 379.18 L529.0 379.24 L530.0 379.30 L531.0 379.35 L532.0 379.41 L533.0 379.46 L534.0 379.52 L535.0 379.58 L536.0 379.63 L537.0 379.69 L538.0 379.74 L539.0 379.79 L540.0 379.85 L541.0 379.90 L542.0 379.96 L543.0 380.01 L544.0 380.07 L545.0 380.12 L546.0 380.17 L547.0 380.23 L548.0 380.28 L549.0 380.33 L550.0 380.38 L551.0 380.44 L552.0 380.49 L553.0 380.54 L554.0 380.59 L555.0 380.64 L556.0 380.70 L557.0 380.75 L558.0 380.80 L559.0 380.85 L560.0 380.90 L561.0 380.95 L562.0 381.00 L563.0 381.05 L564.0 381.10 L565.0 381.15 L566.0 381.20 L567.0 381.25 L568.0 381.30 L569.0 381.35 L570.0 381.40 L571.0 381.44 L572.0 381.49 L573.0 381.54 L574.0 381.59 L575.0 381.64 L576.0 381.69 L577.0 381.73 L578.0 381.78 L579.0 381.83 L580.0 381.87 L581.0 381.92 L582.0 381.97 L583.0 382.01 L584.0 382.06 L585.0 382.10 L586.0 382.15 L587.0 382.19 L588.0 382.24 L589.0 382.28 L590.0 382.33 L591.0 382.37 L592.0 382.41 L593.0 382.46 L594.0 382.50 L595.0 382.54 L596.0 382.59 L597.0 382.63 L598.0 382.67 L599.0 382.71 L600.0 382.75 L601.0 382.79 L602.0 382.83 L603.0 382.88 L604.0 382.92 L605.0 382.95 L606.0 382.99 L607.0 383.03 L608.0 383.07 L609.0 383.11 L610.0 383.15 L611.0 383.19 L612.0 383.22 L613.0 383.26 L614.0 383.30 L615.0 383.33 L616.0 383.37 L617.0 383.40 L618.0 383.44 L619.0 383.47 L620.0 383.51 L621.0 383.54 L622.0 383.58 L623.0 383.61 L624.0 383.65 L625.0 383.68 L626.0 383.72 L627.0 383.75 L628.0 383.79 L629.0 383.82 L630.0 383.86 L631.0 383.89 L632.0 383.93 L633.0 383.97 L634.0 384.01 L635.0 384.04 L636.0 384.08 L637.0 384.12 L638.0 384.16 L639.0 384.21 L640.0 384.25 L641.0 384.29 L642.0 384.33 L643.0 384.38 L644.0 384.42 L645.0 384.47 L646.0 384.52 L647.0 384.56 L648.0 384.61 L649.0 384.66 L650.0 384.71 L651.0 384.76 L652.0 384.81 L653.0 384.86 L654.0 384.91 L655.0 384.96 L656.0 385.02 L657.0 385.07 L658.0 385.12 L659.0 385.17 L660.0 385.23 L661.0 385.28 L662.0 385.33 L663.0 385.39 L664.0 385.44 L665.0 385.49 L666.0 385.55 L667.0 385.60 L668.0 385.65 L669.0 385.70 L670.0 385.76 L671.0 385.81 L672.0 385.86 L673.0 385.91 L674.0 385.96 L675.0 386.01 L676.0 386.07 L677.0 386.12 L678.0 386.16 L679.0 386.21 L680.0 386.26 L681.0 386.31 L682.0 386.36 L683.0 386.40 L684.0 386.45 L685.0 386.49 L686.0 386.54 L687.0 386.58 L688.0 386.63 L689.0 386.67 L690.0 386.71 L691.0 386.75 L692.0 386.80 L693.0 386.84 L694.0 386.88 L695.0 386.92 L696.0 386.95 L697.0 386.99 L698.0 387.03 L699.0 387.07 L700.0 387.11 L701.0 387.14 L702.0 387.18 L703.0 387.21 L704.0 387.25 L705.0 387.28 L706.0 387.32 L707.0 387.35 L708.0 387.38 L709.0 387.42 L710.0 387.45 L711.0 387.48 L712.0 387.51 L713.0 387.54 L714.0 387.57 L715.0 387.60 L716.0 387.63 L717.0 387.66 L718.0 387.69 L719.0 387.72 L720.0 387.75 L721.0 387.78 L722.0 387.80 L723.0 387.83 L724.0 387.86 L725.0 387.88 L726.0 387.91 L727.0 387.93 L728.0 387.96 L729.0 387.98 L730.0 388.01 L731.0 388.03 L732.0 388.06 L733.0 388.08 L734.0 388.10 L735.0 388.13 L736.0 388.15 L737.0 388.17 L738.0 388.20 L739.0 388.22 L740.0 388.24 L741.0 388.26 L742.0 388.28 L743.0 388.30 L744.0 388.32 L745.0 388.34 L746.0 388.36 L747.0 388.38 L748.0 388.40 L749.0 388.42 L750.0 388.44 L751.0 388.46 L752.0 388.48 L753.0 388.50 L754.0 388.52 L755.0 388.54 L756.0 388.56 L757.0 388.57 L758.0 388.59 L759.0 388.61 L760.0 388.63 L761.0 388.64 L762.0 388.66 L763.0 388.68 L764.0 388.70 L765.0 388.71 L766.0 388.73 L767.0 388.75 L768.0 388.77 L769.0 388.78 L770.0 388.80 L771.0 388.82 L772.0 388.83 L773.0 388.85 L774.0 388.86 L775.0 388.88 L776.0 388.90 L777.0 388.91 L778.0 388.93 L779.0 388.95 L780.0 388.96 L781.0 388.98 L782.0 389.00 L783.0 389.01 L784.0 389.03 L785.0 389.04 L786.0 389.06 L787.0 389.08 L788.0 389.09 L789.0 389.11 L790.0 389.13 L791.0 389.14 L792.0 389.16 L793.0 389.18 L794.0 389.19 L795.0 389.21 L796.0 389.23 L797.0 389.24 L798.0 389.26 L799.0 389.28 L800.0 389.29 L800.8 389.31" stroke="#ff0000" stroke-width="2.4" fill="none" stroke-linejoin="round"/>
<path d="M46.6 346.97 L47.0 346.74 L48.0 346.16 L49.0 345.58 L50.0 345.00 L51.0 344.42 L52.0 343.84 L53.0 343.27 L54.0 342.69 L55.0 342.11 L56.0 341.54 L57.0 340.96 L58.0 340.39 L59.0 339.81 L60.0 339.24 L61.0 338.67 L62.0 338.10 L63.0 337.53 L64.0 336.96 L65.0 336.40 L66.0 335.83 L67.0 335.27 L68.0 334.70 L69.0 334.14 L70.0 333.58 L71.0 333.03 L72.0 332.47 L73.0 331.92 L74.0 331.37 L75.0 330.82 L76.0 330.27 L77.0 329.72 L78.0 329.18 L79.0 328.64 L80.0 328.10 L81.0 327.57 L82.0 327.03 L83.0 326.50 L84.0 325.97 L85.0 325.45 L86.0 324.92 L87.0 324.40 L88.0 323.89 L89.0 323.37 L90.0 322.86 L91.0 322.35 L92.0 321.85 L93.0 321.35 L94.0 320.85 L95.0 320.35 L96.0 319.86 L97.0 319.37 L98.0 318.89 L99.0 318.41 L100.0 317.93 L101.0 317.46 L102.0 316.99 L103.0 316.53 L104.0 316.06 L105.0 315.61 L106.0 315.15 L107.0 314.70 L108.0 314.26 L109.0 313.81 L110.0 313.38 L111.0 312.94 L112.0 312.51 L113.0 312.08 L114.0 311.66 L115.0 311.24 L116.0 310.82 L117.0 310.41 L118.0 310.00 L119.0 309.60 L120.0 309.20 L121.0 308.80 L122.0 308.41 L123.0 308.02 L124.0 307.64 L125.0 307.25 L126.0 306.88 L127.0 306.50 L128.0 306.14 L129.0 305.77 L130.0 305.41 L131.0 305.05 L132.0 304.70 L133.0 304.35 L134.0 304.01 L135.0 303.67 L136.0 303.33 L137.0 303.00 L138.0 302.68 L139.0 302.35 L140.0 302.04 L141.0 301.72 L142.0 301.42 L143.0 301.11 L144.0 300.81 L145.0 300.52 L146.0 300.23 L147.0 299.94 L148.0 299.66 L149.0 299.38 L150.0 299.11 L151.0 298.84 L152.0 298.57 L153.0 298.32 L154.0 298.06 L155.0 297.81 L156.0 297.56 L157.0 297.32 L158.0 297.09 L159.0 296.85 L160.0 296.62 L161.0 296.40 L162.0 296.18 L163.0 295.97 L164.0 295.76 L165.0 295.55 L166.0 295.35 L167.0 295.15 L168.0 294.96 L169.0 294.77 L170.0 294.59 L171.0 294.41 L172.0 294.23 L173.0 294.06 L174.0 293.90 L175.0 293.74 L176.0 293.58 L177.0 293.43 L178.0 293.28 L179.0 293.13 L180.0 293.00 L181.0 292.86 L182.0 292.73 L183.0 292.60 L184.0 292.48 L185.0 292.36 L186.0 292.25 L187.0 292.14 L188.0 292.04 L189.0 291.94 L190.0 291.84 L191.0 291.74 L192.0 291.66 L193.0 291.57 L194.0 291.49 L195.0 291.41 L196.0 291.34 L197.0 291.27 L198.0 291.20 L199.0 291.14 L200.0 291.08 L201.0 291.02 L202.0 290.97 L203.0 290.92 L204.0 290.88 L205.0 290.84 L206.0 290.80 L207.0 290.76 L208.0 290.73 L209.0 290.70 L210.0 290.67 L211.0 290.65 L212.0 290.63 L213.0 290.62 L214.0 290.60 L215.0 290.59 L216.0 290.58 L217.0 290.58 L218.0 290.58 L219.0 290.58 L220.0 290.58 L221.0 290.59 L222.0 290.60 L223.0 290.61 L224.0 290.62 L225.0 290.64 L226.0 290.66 L227.0 290.68 L228.0 290.70 L229.0 290.73 L230.0 290.76 L231.0 290.79 L232.0 290.82 L233.0 290.86 L234.0 290.90 L235.0 290.94 L236.0 290.98 L237.0 291.03 L238.0 291.08 L239.0 291.13 L240.0 291.18 L241.0 291.23 L242.0 291.29 L243.0 291.35 L244.0 291.41 L245.0 291.47 L246.0 291.54 L247.0 291.60 L248.0 291.67 L249.0 291.74 L250.0 291.81 L251.0 291.89 L252.0 291.96 L253.0 292.04 L254.0 292.12 L255.0 292.20 L256.0 292.29 L257.0 292.37 L258.0 292.46 L259.0 292.55 L260.0 292.64 L261.0 292.73 L262.0 292.82 L263.0 292.92 L264.0 293.01 L265.0 293.11 L266.0 293.21 L267.0 293.31 L268.0 293.41 L269.0 293.51 L270.0 293.62 L271.0 293.73 L272.0 293.83 L273.0 293.94 L274.0 294.05 L275.0 294.16 L276.0 294.27 L277.0 294.39 L278.0 294.50 L279.0 294.62 L280.0 294.73 L281.0 294.85 L282.0 294.97 L283.0 295.09 L284.0 295.21 L285.0 295.33 L286.0 295.45 L287.0 295.58 L288.0 295.70 L289.0 295.83 L290.0 295.95 L291.0 296.08 L292.0 296.21 L293.0 296.34 L294.0 296.46 L295.0 296.59 L296.0 296.72 L297.0 296.85 L298.0 296.99 L299.0 297.12 L300.0 297.25 L301.0 297.38 L302.0 297.52 L303.0 297.65 L304.0 297.78 L305.0 297.92 L306.0 298.05 L307.0 298.19 L308.0 298.32 L309.0 298.46 L310.0 298.60 L311.0 298.73 L312.0 298.87 L313.0 299.00 L314.0 299.14 L315.0 299.28 L316.0 299.42 L317.0 299.55 L318.0 299.69 L319.0 299.83 L320.0 299.96 L321.0 300.10 L322.0 300.24 L323.0 300.37 L324.0 300.51 L325.0 300.65 L326.0 300.78 L327.0 300.92 L328.0 301.06 L329.0 301.19 L330.0 301.33 L331.0 301.47 L332.0 301.61 L333.0 301.74 L334.0 301.88 L335.0 302.02 L336.0 302.16 L337.0 302.29 L338.0 302.43 L339.0 302.57 L340.0 302.71 L341.0 302.85 L342.0 302.99 L343.0 303.12 L344.0 303.26 L345.0 303.40 L346.0 303.54 L347.0 303.68 L348.0 303.82 L349.0 303.97 L350.0 304.11 L351.0 304.25 L352.0 304.39 L353.0 304.53 L354.0 304.68 L355.0 304.82 L356.0 304.96 L357.0 305.11 L358.0 305.25 L359.0 305.40 L360.0 305.54 L361.0 305.69 L362.0 305.83 L363.0 305.98 L364.0 306.13 L365.0 306.28 L366.0 306.42 L367.0 306.57 L368.0 306.72 L369.0 306.87 L370.0 307.02 L371.0 307.16 L372.0 307.31 L373.0 307.46 L374.0 307.61 L375.0 307.76 L376.0 307.91 L377.0 308.05 L378.0 308.20 L379.0 308.35 L380.0 308.50 L381.0 308.64 L382.0 308.79 L383.0 308.93 L384.0 309.08 L385.0 309.22 L386.0 309.37 L387.0 309.51 L388.0 309.65 L389.0 309.80 L390.0 309.94 L391.0 310.08 L392.0 310.22 L393.0 310.35 L394.0 310.49 L395.0 310.63 L396.0 310.76 L397.0 310.90 L398.0 311.03 L399.0 311.17 L400.0 311.30 L401.0 311.43 L402.0 311.57 L403.0 311.70 L404.0 311.83 L405.0 311.96 L406.0 312.09 L407.0 312.22 L408.0 312.35 L409.0 312.47 L410.0 312.60 L411.0 312.73 L412.0 312.86 L413.0 312.98 L414.0 313.11 L415.0 313.24 L416.0 313.36 L417.0 313.49 L418.0 313.61 L419.0 313.74 L420.0 313.86 L421.0 313.99 L422.0 314.11 L423.0 314.24 L424.0 314.36 L425.0 314.48 L426.0 314.61 L427.0 314.73 L428.0 314.85 L429.0 314.98 L430.0 315.10 L431.0 315.23 L432.0 315.35 L433.0 315.47 L434.0 315.60 L435.0 315.72 L436.0 315.85 L437.0 315.97 L438.0 316.10 L439.0 316.22 L440.0 316.35 L441.0 316.47 L442.0 316.60 L443.0 316.72 L444.0 316.85 L445.0 316.98 L446.0 317.10 L447.0 317.23 L448.0 317.36 L449.0 317.48 L450.0 317.61 L451.0 317.74 L452.0 317.87 L453.0 318.00 L454.0 318.13 L455.0 318.25 L456.0 318.38 L457.0 318.51 L458.0 318.64 L459.0 318.77 L460.0 318.89 L461.0 319.02 L462.0 319.15 L463.0 319.27 L464.0 319.40 L465.0 319.52 L466.0 319.65 L467.0 319.77 L468.0 319.90 L469.0 320.02 L470.0 320.14 L471.0 320.27 L472.0 320.39 L473.0 320.51 L474.0 320.63 L475.0 320.75 L476.0 320.87 L477.0 320.99 L478.0 321.11 L479.0 321.22 L480.0 321.34 L481.0 321.46 L482.0 321.57 L483.0 321.69 L484.0 321.80 L485.0 321.92 L486.0 322.03 L487.0 322.15 L488.0 322.26 L489.0 322.37 L490.0 322.48 L491.0 322.59 L492.0 322.71 L493.0 322.82 L494.0 322.93 L495.0 323.03 L496.0 323.14 L497.0 323.25 L498.0 323.36 L499.0 323.46 L500.0 323.57 L501.0 323.68 L502.0 323.78 L503.0 323.89 L504.0 323.99 L505.0 324.09 L506.0 324.20 L507.0 324.30 L508.0 324.40 L509.0 324.50 L510.0 324.60 L511.0 324.70 L512.0 324.80 L513.0 324.90 L514.0 325.00 L515.0 325.10 L516.0 325.19 L517.0 325.29 L518.0 325.39 L519.0 325.48 L520.0 325.58 L521.0 325.67 L522.0 325.76 L523.0 325.86 L524.0 325.95 L525.0 326.04 L526.0 326.13 L527.0 326.22 L528.0 326.31 L529.0 326.40 L530.0 326.49 L531.0 326.58 L532.0 326.67 L533.0 326.76 L534.0 326.85 L535.0 326.93 L536.0 327.02 L537.0 327.10 L538.0 327.19 L539.0 327.27 L540.0 327.36 L541.0 327.44 L542.0 327.53 L543.0 327.61 L544.0 327.69 L545.0 327.77 L546.0 327.85 L547.0 327.93 L548.0 328.01 L549.0 328.09 L550.0 328.17 L551.0 328.25 L552.0 328.33 L553.0 328.41 L554.0 328.49 L555.0 328.56 L556.0 328.64 L557.0 328.72 L558.0 328.79 L559.0 328.87 L560.0 328.94 L561.0 329.02 L562.0 329.09 L563.0 329.17 L564.0 329.24 L565.0 329.31 L566.0 329.39 L567.0 329.46 L568.0 329.53 L569.0 329.60 L570.0 329.67 L571.0 329.74 L572.0 329.81 L573.0 329.88 L574.0 329.95 L575.0 330.02 L576.0 330.09 L577.0 330.16 L578.0 330.23 L579.0 330.29 L580.0 330.36 L581.0 330.43 L582.0 330.50 L583.0 330.56 L584.0 330.63 L585.0 330.69 L586.0 330.76 L587.0 330.82 L588.0 330.89 L589.0 330.95 L590.0 331.02 L591.0 331.08 L592.0 331.14 L593.0 331.21 L594.0 331.27 L595.0 331.33 L596.0 331.39 L597.0 331.46 L598.0 331.52 L599.0 331.58 L600.0 331.64 L601.0 331.70 L602.0 331.76 L603.0 331.82 L604.0 331.88 L605.0 331.94 L606.0 332.00 L607.0 332.06 L608.0 332.12 L609.0 332.18 L610.0 332.23 L611.0 332.29 L612.0 332.35 L613.0 332.41 L614.0 332.47 L615.0 332.52 L616.0 332.58 L617.0 332.64 L618.0 332.69 L619.0 332.75 L620.0 332.81 L621.0 332.86 L622.0 332.92 L623.0 332.97 L624.0 333.03 L625.0 333.09 L626.0 333.14 L627.0 333.20 L628.0 333.26 L629.0 333.32 L630.0 333.37 L631.0 333.43 L632.0 333.49 L633.0 333.55 L634.0 333.61 L635.0 333.67 L636.0 333.73 L637.0 333.79 L638.0 333.85 L639.0 333.92 L640.0 333.98 L641.0 334.04 L642.0 334.11 L643.0 334.17 L644.0 334.24 L645.0 334.31 L646.0 334.37 L647.0 334.44 L648.0 334.51 L649.0 334.58 L650.0 334.64 L651.0 334.71 L652.0 334.78 L653.0 334.85 L654.0 334.92 L655.0 334.99 L656.0 335.06 L657.0 335.12 L658.0 335.19 L659.0 335.26 L660.0 335.33 L661.0 335.40 L662.0 335.46 L663.0 335.53 L664.0 335.60 L665.0 335.67 L666.0 335.73 L667.0 335.80 L668.0 335.87 L669.0 335.93 L670.0 336.00 L671.0 336.06 L672.0 336.13 L673.0 336.20 L674.0 336.26 L675.0 336.32 L676.0 336.39 L677.0 336.45 L678.0 336.52 L679.0 336.58 L680.0 336.64 L681.0 336.70 L682.0 336.77 L683.0 336.83 L684.0 336.89 L685.0 336.95 L686.0 337.01 L687.0 337.07 L688.0 337.13 L689.0 337.19 L690.0 337.24 L691.0 337.30 L692.0 337.36 L693.0 337.42 L694.0 337.47 L695.0 337.53 L696.0 337.58 L697.0 337.64 L698.0 337.69 L699.0 337.74 L700.0 337.79 L701.0 337.85 L702.0 337.90 L703.0 337.95 L704.0 338.00 L705.0 338.04 L706.0 338.09 L707.0 338.14 L708.0 338.19 L709.0 338.23 L710.0 338.28 L711.0 338.32 L712.0 338.37 L713.0 338.41 L714.0 338.45 L715.0 338.50 L716.0 338.54 L717.0 338.58 L718.0 338.62 L719.0 338.66 L720.0 338.70 L721.0 338.74 L722.0 338.77 L723.0 338.81 L724.0 338.85 L725.0 338.89 L726.0 338.92 L727.0 338.96 L728.0 338.99 L729.0 339.03 L730.0 339.06 L731.0 339.10 L732.0 339.13 L733.0 339.16 L734.0 339.19 L735.0 339.23 L736.0 339.26 L737.0 339.29 L738.0 339.32 L739.0 339.35 L740.0 339.38 L741.0 339.41 L742.0 339.44 L743.0 339.47 L744.0 339.50 L745.0 339.53 L746.0 339.56 L747.0 339.59 L748.0 339.61 L749.0 339.64 L750.0 339.67 L751.0 339.70 L752.0 339.72 L753.0 339.75 L754.0 339.78 L755.0 339.80 L756.0 339.83 L757.0 339.86 L758.0 339.88 L759.0 339.91 L760.0 339.93 L761.0 339.96 L762.0 339.98 L763.0 340.01 L764.0 340.04 L765.0 340.06 L766.0 340.09 L767.0 340.11 L768.0 340.14 L769.0 340.16 L770.0 340.19 L771.0 340.21 L772.0 340.24 L773.0 340.26 L774.0 340.29 L775.0 340.31 L776.0 340.34 L777.0 340.37 L778.0 340.39 L779.0 340.42 L780.0 340.44 L781.0 340.47 L782.0 340.49 L783.0 340.52 L784.0 340.55 L785.0 340.57 L786.0 340.60 L787.0 340.63 L788.0 340.65 L789.0 340.68 L790.0 340.71 L791.0 340.74 L792.0 340.76 L793.0 340.79 L794.0 340.82 L795.0 340.85 L796.0 340.88 L797.0 340.91 L798.0 340.94 L799.0 340.97 L800.0 341.00 L800.8 341.02" stroke="#808080" stroke-width="2.35" fill="none" stroke-linejoin="round"/>
<path d="M47.2 308.05 L48.0 307.49 L49.0 306.78 L50.0 306.07 L51.0 305.35 L52.0 304.62 L53.0 303.90 L54.0 303.16 L55.0 302.43 L56.0 301.69 L57.0 300.94 L58.0 300.20 L59.0 299.45 L60.0 298.69 L61.0 297.93 L62.0 297.17 L63.0 296.41 L64.0 295.64 L65.0 294.87 L66.0 294.10 L67.0 293.33 L68.0 292.56 L69.0 291.78 L70.0 291.00 L71.0 290.22 L72.0 289.44 L73.0 288.66 L74.0 287.88 L75.0 287.09 L76.0 286.31 L77.0 285.53 L78.0 284.74 L79.0 283.96 L80.0 283.17 L81.0 282.39 L82.0 281.61 L83.0 280.83 L84.0 280.05 L85.0 279.27 L86.0 278.49 L87.0 277.71 L88.0 276.93 L89.0 276.16 L90.0 275.39 L91.0 274.62 L92.0 273.85 L93.0 273.09 L94.0 272.33 L95.0 271.57 L96.0 270.81 L97.0 270.06 L98.0 269.31 L99.0 268.56 L100.0 267.82 L101.0 267.08 L102.0 266.35 L103.0 265.62 L104.0 264.89 L105.0 264.17 L106.0 263.45 L107.0 262.74 L108.0 262.03 L109.0 261.33 L110.0 260.63 L111.0 259.93 L112.0 259.24 L113.0 258.56 L114.0 257.88 L115.0 257.20 L116.0 256.53 L117.0 255.87 L118.0 255.21 L119.0 254.56 L120.0 253.91 L121.0 253.27 L122.0 252.63 L123.0 252.01 L124.0 251.38 L125.0 250.76 L126.0 250.15 L127.0 249.55 L128.0 248.95 L129.0 248.36 L130.0 247.78 L131.0 247.20 L132.0 246.63 L133.0 246.06 L134.0 245.51 L135.0 244.96 L136.0 244.41 L137.0 243.88 L138.0 243.35 L139.0 242.83 L140.0 242.32 L141.0 241.81 L142.0 241.32 L143.0 240.83 L144.0 240.34 L145.0 239.87 L146.0 239.40 L147.0 238.94 L148.0 238.49 L149.0 238.05 L150.0 237.62 L151.0 237.19 L152.0 236.77 L153.0 236.36 L154.0 235.95 L155.0 235.56 L156.0 235.17 L157.0 234.79 L158.0 234.42 L159.0 234.06 L160.0 233.70 L161.0 233.36 L162.0 233.02 L163.0 232.69 L164.0 232.37 L165.0 232.05 L166.0 231.75 L167.0 231.45 L168.0 231.16 L169.0 230.88 L170.0 230.61 L171.0 230.34 L172.0 230.08 L173.0 229.83 L174.0 229.59 L175.0 229.36 L176.0 229.13 L177.0 228.90 L178.0 228.69 L179.0 228.48 L180.0 228.27 L181.0 228.07 L182.0 227.88 L183.0 227.69 L184.0 227.50 L185.0 227.32 L186.0 227.15 L187.0 226.98 L188.0 226.81 L189.0 226.65 L190.0 226.50 L191.0 226.35 L192.0 226.20 L193.0 226.06 L194.0 225.93 L195.0 225.80 L196.0 225.68 L197.0 225.56 L198.0 225.44 L199.0 225.33 L200.0 225.23 L201.0 225.13 L202.0 225.04 L203.0 224.96 L204.0 224.87 L205.0 224.80 L206.0 224.73 L207.0 224.67 L208.0 224.61 L209.0 224.55 L210.0 224.51 L211.0 224.47 L212.0 224.43 L213.0 224.40 L214.0 224.38 L215.0 224.36 L216.0 224.35 L217.0 224.35 L218.0 224.35 L219.0 224.36 L220.0 224.37 L221.0 224.39 L222.0 224.41 L223.0 224.44 L224.0 224.47 L225.0 224.50 L226.0 224.54 L227.0 224.59 L228.0 224.64 L229.0 224.69 L230.0 224.75 L231.0 224.81 L232.0 224.87 L233.0 224.94 L234.0 225.01 L235.0 225.08 L236.0 225.16 L237.0 225.24 L238.0 225.32 L239.0 225.41 L240.0 225.50 L241.0 225.59 L242.0 225.69 L243.0 225.78 L244.0 225.89 L245.0 225.99 L246.0 226.10 L247.0 226.21 L248.0 226.32 L249.0 226.44 L250.0 226.56 L251.0 226.68 L252.0 226.80 L253.0 226.93 L254.0 227.06 L255.0 227.19 L256.0 227.32 L257.0 227.46 L258.0 227.60 L259.0 227.74 L260.0 227.88 L261.0 228.03 L262.0 228.18 L263.0 228.33 L264.0 228.48 L265.0 228.64 L266.0 228.80 L267.0 228.96 L268.0 229.12 L269.0 229.28 L270.0 229.45 L271.0 229.62 L272.0 229.79 L273.0 229.96 L274.0 230.13 L275.0 230.31 L276.0 230.48 L277.0 230.66 L278.0 230.84 L279.0 231.03 L280.0 231.21 L281.0 231.40 L282.0 231.58 L283.0 231.77 L284.0 231.96 L285.0 232.15 L286.0 232.35 L287.0 232.54 L288.0 232.74 L289.0 232.93 L290.0 233.13 L291.0 233.33 L292.0 233.53 L293.0 233.73 L294.0 233.94 L295.0 234.14 L296.0 234.35 L297.0 234.55 L298.0 234.76 L299.0 234.97 L300.0 235.18 L301.0 235.39 L302.0 235.60 L303.0 235.81 L304.0 236.02 L305.0 236.24 L306.0 236.45 L307.0 236.66 L308.0 236.88 L309.0 237.10 L310.0 237.31 L311.0 237.53 L312.0 237.75 L313.0 237.96 L314.0 238.18 L315.0 238.40 L316.0 238.62 L317.0 238.84 L318.0 239.06 L319.0 239.27 L320.0 239.49 L321.0 239.71 L322.0 239.93 L323.0 240.15 L324.0 240.37 L325.0 240.59 L326.0 240.81 L327.0 241.03 L328.0 241.25 L329.0 241.47 L330.0 241.69 L331.0 241.91 L332.0 242.13 L333.0 242.35 L334.0 242.57 L335.0 242.78 L336.0 243.00 L337.0 243.22 L338.0 243.44 L339.0 243.66 L340.0 243.87 L341.0 244.09 L342.0 244.31 L343.0 244.53 L344.0 244.74 L345.0 244.96 L346.0 245.18 L347.0 245.39 L348.0 245.61 L349.0 245.83 L350.0 246.04 L351.0 246.26 L352.0 246.47 L353.0 246.69 L354.0 246.90 L355.0 247.12 L356.0 247.33 L357.0 247.55 L358.0 247.76 L359.0 247.98 L360.0 248.19 L361.0 248.40 L362.0 248.62 L363.0 248.83 L364.0 249.04 L365.0 249.26 L366.0 249.47 L367.0 249.68 L368.0 249.89 L369.0 250.11 L370.0 250.32 L371.0 250.53 L372.0 250.74 L373.0 250.95 L374.0 251.16 L375.0 251.37 L376.0 251.58 L377.0 251.79 L378.0 252.00 L379.0 252.21 L380.0 252.42 L381.0 252.63 L382.0 252.84 L383.0 253.04 L384.0 253.25 L385.0 253.46 L386.0 253.67 L387.0 253.87 L388.0 254.08 L389.0 254.29 L390.0 254.49 L391.0 254.70 L392.0 254.91 L393.0 255.11 L394.0 255.32 L395.0 255.52 L396.0 255.72 L397.0 255.93 L398.0 256.13 L399.0 256.34 L400.0 256.54 L401.0 256.74 L402.0 256.94 L403.0 257.15 L404.0 257.35 L405.0 257.55 L406.0 257.75 L407.0 257.95 L408.0 258.15 L409.0 258.35 L410.0 258.55 L411.0 258.75 L412.0 258.95 L413.0 259.15 L414.0 259.35 L415.0 259.54 L416.0 259.74 L417.0 259.94 L418.0 260.13 L419.0 260.33 L420.0 260.53 L421.0 260.72 L422.0 260.92 L423.0 261.11 L424.0 261.31 L425.0 261.50 L426.0 261.69 L427.0 261.89 L428.0 262.08 L429.0 262.27 L430.0 262.46 L431.0 262.66 L432.0 262.85 L433.0 263.04 L434.0 263.23 L435.0 263.42 L436.0 263.61 L437.0 263.79 L438.0 263.98 L439.0 264.17 L440.0 264.35 L441.0 264.54 L442.0 264.73 L443.0 264.91 L444.0 265.10 L445.0 265.28 L446.0 265.46 L447.0 265.64 L448.0 265.83 L449.0 266.01 L450.0 266.19 L451.0 266.37 L452.0 266.54 L453.0 266.72 L454.0 266.90 L455.0 267.08 L456.0 267.25 L457.0 267.43 L458.0 267.60 L459.0 267.78 L460.0 267.95 L461.0 268.12 L462.0 268.29 L463.0 268.46 L464.0 268.63 L465.0 268.80 L466.0 268.97 L467.0 269.14 L468.0 269.30 L469.0 269.47 L470.0 269.63 L471.0 269.80 L472.0 269.96 L473.0 270.12 L474.0 270.28 L475.0 270.44 L476.0 270.60 L477.0 270.76 L478.0 270.92 L479.0 271.08 L480.0 271.23 L481.0 271.39 L482.0 271.54 L483.0 271.70 L484.0 271.85 L485.0 272.00 L486.0 272.15 L487.0 272.30 L488.0 272.45 L489.0 272.60 L490.0 272.75 L491.0 272.90 L492.0 273.05 L493.0 273.19 L494.0 273.34 L495.0 273.48 L496.0 273.63 L497.0 273.77 L498.0 273.92 L499.0 274.06 L500.0 274.20 L501.0 274.34 L502.0 274.48 L503.0 274.62 L504.0 274.76 L505.0 274.90 L506.0 275.04 L507.0 275.18 L508.0 275.31 L509.0 275.45 L510.0 275.59 L511.0 275.72 L512.0 275.86 L513.0 275.99 L514.0 276.12 L515.0 276.26 L516.0 276.39 L517.0 276.52 L518.0 276.65 L519.0 276.79 L520.0 276.92 L521.0 277.05 L522.0 277.18 L523.0 277.31 L524.0 277.43 L525.0 277.56 L526.0 277.69 L527.0 277.82 L528.0 277.95 L529.0 278.07 L530.0 278.20 L531.0 278.32 L532.0 278.45 L533.0 278.57 L534.0 278.70 L535.0 278.82 L536.0 278.95 L537.0 279.07 L538.0 279.19 L539.0 279.31 L540.0 279.43 L541.0 279.56 L542.0 279.68 L543.0 279.80 L544.0 279.92 L545.0 280.04 L546.0 280.15 L547.0 280.27 L548.0 280.39 L549.0 280.51 L550.0 280.63 L551.0 280.74 L552.0 280.86 L553.0 280.98 L554.0 281.09 L555.0 281.21 L556.0 281.32 L557.0 281.44 L558.0 281.55 L559.0 281.67 L560.0 281.78 L561.0 281.89 L562.0 282.01 L563.0 282.12 L564.0 282.23 L565.0 282.34 L566.0 282.45 L567.0 282.56 L568.0 282.68 L569.0 282.79 L570.0 282.90 L571.0 283.00 L572.0 283.11 L573.0 283.22 L574.0 283.33 L575.0 283.44 L576.0 283.55 L577.0 283.66 L578.0 283.76 L579.0 283.87 L580.0 283.98 L581.0 284.08 L582.0 284.19 L583.0 284.29 L584.0 284.40 L585.0 284.51 L586.0 284.61 L587.0 284.71 L588.0 284.82 L589.0 284.92 L590.0 285.03 L591.0 285.13 L592.0 285.23 L593.0 285.34 L594.0 285.44 L595.0 285.54 L596.0 285.64 L597.0 285.74 L598.0 285.85 L599.0 285.95 L600.0 286.05 L601.0 286.15 L602.0 286.25 L603.0 286.35 L604.0 286.45 L605.0 286.55 L606.0 286.65 L607.0 286.75 L608.0 286.85 L609.0 286.95 L610.0 287.04 L611.0 287.14 L612.0 287.24 L613.0 287.34 L614.0 287.44 L615.0 287.53 L616.0 287.63 L617.0 287.73 L618.0 287.82 L619.0 287.92 L620.0 288.02 L621.0 288.11 L622.0 288.21 L623.0 288.30 L624.0 288.40 L625.0 288.50 L626.0 288.59 L627.0 288.68 L628.0 288.78 L629.0 288.87 L630.0 288.97 L631.0 289.06 L632.0 289.15 L633.0 289.25 L634.0 289.34 L635.0 289.43 L636.0 289.52 L637.0 289.62 L638.0 289.71 L639.0 289.80 L640.0 289.89 L641.0 289.98 L642.0 290.07 L643.0 290.16 L644.0 290.25 L645.0 290.34 L646.0 290.43 L647.0 290.52 L648.0 290.61 L649.0 290.69 L650.0 290.78 L651.0 290.87 L652.0 290.96 L653.0 291.04 L654.0 291.13 L655.0 291.22 L656.0 291.30 L657.0 291.39 L658.0 291.47 L659.0 291.56 L660.0 291.64 L661.0 291.73 L662.0 291.81 L663.0 291.90 L664.0 291.98 L665.0 292.06 L666.0 292.14 L667.0 292.23 L668.0 292.31 L669.0 292.39 L670.0 292.47 L671.0 292.55 L672.0 292.63 L673.0 292.71 L674.0 292.79 L675.0 292.87 L676.0 292.95 L677.0 293.02 L678.0 293.10 L679.0 293.18 L680.0 293.26 L681.0 293.33 L682.0 293.41 L683.0 293.49 L684.0 293.56 L685.0 293.64 L686.0 293.71 L687.0 293.78 L688.0 293.86 L689.0 293.93 L690.0 294.00 L691.0 294.08 L692.0 294.15 L693.0 294.22 L694.0 294.29 L695.0 294.36 L696.0 294.43 L697.0 294.50 L698.0 294.57 L699.0 294.64 L700.0 294.71 L701.0 294.78 L702.0 294.84 L703.0 294.91 L704.0 294.98 L705.0 295.04 L706.0 295.11 L707.0 295.17 L708.0 295.24 L709.0 295.30 L710.0 295.36 L711.0 295.43 L712.0 295.49 L713.0 295.55 L714.0 295.61 L715.0 295.68 L716.0 295.74 L717.0 295.80 L718.0 295.86 L719.0 295.92 L720.0 295.98 L721.0 296.03 L722.0 296.09 L723.0 296.15 L724.0 296.21 L725.0 296.27 L726.0 296.32 L727.0 296.38 L728.0 296.43 L729.0 296.49 L730.0 296.55 L731.0 296.60 L732.0 296.66 L733.0 296.71 L734.0 296.76 L735.0 296.82 L736.0 296.87 L737.0 296.92 L738.0 296.98 L739.0 297.03 L740.0 297.08 L741.0 297.14 L742.0 297.19 L743.0 297.24 L744.0 297.29 L745.0 297.34 L746.0 297.39 L747.0 297.44 L748.0 297.49 L749.0 297.54 L750.0 297.59 L751.0 297.64 L752.0 297.69 L753.0 297.74 L754.0 297.79 L755.0 297.84 L756.0 297.89 L757.0 297.94 L758.0 297.99 L759.0 298.04 L760.0 298.09 L761.0 298.14 L762.0 298.19 L763.0 298.23 L764.0 298.28 L765.0 298.33 L766.0 298.38 L767.0 298.43 L768.0 298.47 L769.0 298.52 L770.0 298.57 L771.0 298.62 L772.0 298.67 L773.0 298.71 L774.0 298.76 L775.0 298.81 L776.0 298.86 L777.0 298.91 L778.0 298.95 L779.0 299.00 L780.0 299.05 L781.0 299.10 L782.0 299.15 L783.0 299.19 L784.0 299.24 L785.0 299.29 L786.0 299.34 L787.0 299.39 L788.0 299.43 L789.0 299.48 L790.0 299.53 L791.0 299.58 L792.0 299.63 L793.0 299.68 L794.0 299.73 L795.0 299.78 L796.0 299.83 L797.0 299.88 L798.0 299.93 L799.0 299.98 L800.0 300.03 L800.8 300.07" stroke="#000000" stroke-width="2.4" fill="none" stroke-linejoin="round" stroke-dasharray="16.2 15.945"/>
<path d="M47.2 276.67 L48.0 275.80 L49.0 274.72 L50.0 273.65 L51.0 272.60 L52.0 271.55 L53.0 270.51 L54.0 269.48 L55.0 268.46 L56.0 267.44 L57.0 266.42 L58.0 265.41 L59.0 264.40 L60.0 263.40 L61.0 262.39 L62.0 261.38 L63.0 260.37 L64.0 259.36 L65.0 258.35 L66.0 257.33 L67.0 256.30 L68.0 255.27 L69.0 254.23 L70.0 253.18 L71.0 252.12 L72.0 251.06 L73.0 249.99 L74.0 248.91 L75.0 247.83 L76.0 246.74 L77.0 245.65 L78.0 244.56 L79.0 243.46 L80.0 242.36 L81.0 241.26 L82.0 240.17 L83.0 239.07 L84.0 237.98 L85.0 236.88 L86.0 235.80 L87.0 234.71 L88.0 233.63 L89.0 232.56 L90.0 231.49 L91.0 230.43 L92.0 229.38 L93.0 228.33 L94.0 227.29 L95.0 226.26 L96.0 225.22 L97.0 224.19 L98.0 223.16 L99.0 222.12 L100.0 221.08 L101.0 220.04 L102.0 219.00 L103.0 217.94 L104.0 216.88 L105.0 215.81 L106.0 214.74 L107.0 213.66 L108.0 212.58 L109.0 211.50 L110.0 210.41 L111.0 209.32 L112.0 208.23 L113.0 207.14 L114.0 206.06 L115.0 204.97 L116.0 203.89 L117.0 202.82 L118.0 201.74 L119.0 200.68 L120.0 199.62 L121.0 198.57 L122.0 197.53 L123.0 196.49 L124.0 195.47 L125.0 194.46 L126.0 193.46 L127.0 192.47 L128.0 191.49 L129.0 190.53 L130.0 189.57 L131.0 188.62 L132.0 187.68 L133.0 186.76 L134.0 185.84 L135.0 184.93 L136.0 184.02 L137.0 183.13 L138.0 182.24 L139.0 181.36 L140.0 180.49 L141.0 179.62 L142.0 178.76 L143.0 177.90 L144.0 177.05 L145.0 176.20 L146.0 175.36 L147.0 174.52 L148.0 173.69 L149.0 172.86 L150.0 172.03 L151.0 171.21 L152.0 170.39 L153.0 169.58 L154.0 168.78 L155.0 167.99 L156.0 167.21 L157.0 166.44 L158.0 165.68 L159.0 164.93 L160.0 164.20 L161.0 163.48 L162.0 162.77 L163.0 162.09 L164.0 161.41 L165.0 160.75 L166.0 160.11 L167.0 159.48 L168.0 158.87 L169.0 158.27 L170.0 157.69 L171.0 157.12 L172.0 156.56 L173.0 156.02 L174.0 155.49 L175.0 154.98 L176.0 154.48 L177.0 154.00 L178.0 153.53 L179.0 153.07 L180.0 152.63 L181.0 152.20 L182.0 151.78 L183.0 151.38 L184.0 150.99 L185.0 150.61 L186.0 150.25 L187.0 149.90 L188.0 149.56 L189.0 149.24 L190.0 148.93 L191.0 148.63 L192.0 148.34 L193.0 148.07 L194.0 147.81 L195.0 147.56 L196.0 147.32 L197.0 147.10 L198.0 146.88 L199.0 146.68 L200.0 146.49 L201.0 146.32 L202.0 146.15 L203.0 146.00 L204.0 145.86 L205.0 145.73 L206.0 145.61 L207.0 145.50 L208.0 145.40 L209.0 145.32 L210.0 145.24 L211.0 145.18 L212.0 145.12 L213.0 145.08 L214.0 145.05 L215.0 145.03 L216.0 145.01 L217.0 145.01 L218.0 145.02 L219.0 145.03 L220.0 145.06 L221.0 145.10 L222.0 145.14 L223.0 145.20 L224.0 145.26 L225.0 145.33 L226.0 145.41 L227.0 145.50 L228.0 145.60 L229.0 145.71 L230.0 145.82 L231.0 145.94 L232.0 146.07 L233.0 146.21 L234.0 146.36 L235.0 146.51 L236.0 146.67 L237.0 146.84 L238.0 147.02 L239.0 147.20 L240.0 147.39 L241.0 147.59 L242.0 147.79 L243.0 148.00 L244.0 148.22 L245.0 148.44 L246.0 148.67 L247.0 148.91 L248.0 149.15 L249.0 149.40 L250.0 149.65 L251.0 149.91 L252.0 150.17 L253.0 150.44 L254.0 150.71 L255.0 150.99 L256.0 151.27 L257.0 151.56 L258.0 151.86 L259.0 152.15 L260.0 152.46 L261.0 152.76 L262.0 153.07 L263.0 153.39 L264.0 153.70 L265.0 154.03 L266.0 154.35 L267.0 154.68 L268.0 155.01 L269.0 155.35 L270.0 155.69 L271.0 156.03 L272.0 156.37 L273.0 156.72 L274.0 157.07 L275.0 157.42 L276.0 157.78 L277.0 158.14 L278.0 158.50 L279.0 158.86 L280.0 159.23 L281.0 159.59 L282.0 159.96 L283.0 160.33 L284.0 160.71 L285.0 161.08 L286.0 161.46 L287.0 161.84 L288.0 162.22 L289.0 162.60 L290.0 162.98 L291.0 163.37 L292.0 163.76 L293.0 164.14 L294.0 164.53 L295.0 164.92 L296.0 165.31 L297.0 165.70 L298.0 166.10 L299.0 166.49 L300.0 166.88 L301.0 167.28 L302.0 167.67 L303.0 168.07 L304.0 168.46 L305.0 168.86 L306.0 169.26 L307.0 169.65 L308.0 170.05 L309.0 170.45 L310.0 170.84 L311.0 171.24 L312.0 171.63 L313.0 172.03 L314.0 172.42 L315.0 172.82 L316.0 173.21 L317.0 173.60 L318.0 174.00 L319.0 174.39 L320.0 174.78 L321.0 175.17 L322.0 175.56 L323.0 175.95 L324.0 176.34 L325.0 176.73 L326.0 177.12 L327.0 177.51 L328.0 177.89 L329.0 178.28 L330.0 178.66 L331.0 179.05 L332.0 179.43 L333.0 179.82 L334.0 180.20 L335.0 180.58 L336.0 180.96 L337.0 181.35 L338.0 181.73 L339.0 182.11 L340.0 182.49 L341.0 182.86 L342.0 183.24 L343.0 183.62 L344.0 183.99 L345.0 184.37 L346.0 184.74 L347.0 185.12 L348.0 185.49 L349.0 185.86 L350.0 186.23 L351.0 186.61 L352.0 186.98 L353.0 187.34 L354.0 187.71 L355.0 188.08 L356.0 188.45 L357.0 188.81 L358.0 189.18 L359.0 189.54 L360.0 189.90 L361.0 190.27 L362.0 190.63 L363.0 190.99 L364.0 191.35 L365.0 191.71 L366.0 192.07 L367.0 192.42 L368.0 192.78 L369.0 193.13 L370.0 193.49 L371.0 193.84 L372.0 194.19 L373.0 194.54 L374.0 194.89 L375.0 195.24 L376.0 195.59 L377.0 195.94 L378.0 196.28 L379.0 196.63 L380.0 196.97 L381.0 197.32 L382.0 197.66 L383.0 198.00 L384.0 198.34 L385.0 198.68 L386.0 199.02 L387.0 199.35 L388.0 199.69 L389.0 200.02 L390.0 200.35 L391.0 200.69 L392.0 201.02 L393.0 201.35 L394.0 201.68 L395.0 202.00 L396.0 202.33 L397.0 202.66 L398.0 202.98 L399.0 203.30 L400.0 203.62 L401.0 203.94 L402.0 204.26 L403.0 204.58 L404.0 204.90 L405.0 205.21 L406.0 205.53 L407.0 205.84 L408.0 206.15 L409.0 206.46 L410.0 206.77 L411.0 207.08 L412.0 207.39 L413.0 207.69 L414.0 208.00 L415.0 208.30 L416.0 208.60 L417.0 208.90 L418.0 209.20 L419.0 209.50 L420.0 209.80 L421.0 210.10 L422.0 210.39 L423.0 210.68 L424.0 210.98 L425.0 211.27 L426.0 211.56 L427.0 211.85 L428.0 212.13 L429.0 212.42 L430.0 212.71 L431.0 212.99 L432.0 213.27 L433.0 213.56 L434.0 213.84 L435.0 214.12 L436.0 214.39 L437.0 214.67 L438.0 214.95 L439.0 215.22 L440.0 215.50 L441.0 215.77 L442.0 216.04 L443.0 216.31 L444.0 216.58 L445.0 216.85 L446.0 217.12 L447.0 217.38 L448.0 217.65 L449.0 217.91 L450.0 218.18 L451.0 218.44 L452.0 218.70 L453.0 218.96 L454.0 219.22 L455.0 219.47 L456.0 219.73 L457.0 219.99 L458.0 220.24 L459.0 220.49 L460.0 220.75 L461.0 221.00 L462.0 221.25 L463.0 221.50 L464.0 221.74 L465.0 221.99 L466.0 222.24 L467.0 222.48 L468.0 222.72 L469.0 222.97 L470.0 223.21 L471.0 223.45 L472.0 223.69 L473.0 223.93 L474.0 224.17 L475.0 224.40 L476.0 224.64 L477.0 224.87 L478.0 225.11 L479.0 225.34 L480.0 225.57 L481.0 225.80 L482.0 226.03 L483.0 226.26 L484.0 226.49 L485.0 226.71 L486.0 226.94 L487.0 227.16 L488.0 227.39 L489.0 227.61 L490.0 227.83 L491.0 228.05 L492.0 228.27 L493.0 228.49 L494.0 228.71 L495.0 228.93 L496.0 229.14 L497.0 229.36 L498.0 229.57 L499.0 229.79 L500.0 230.00 L501.0 230.21 L502.0 230.42 L503.0 230.63 L504.0 230.84 L505.0 231.05 L506.0 231.25 L507.0 231.46 L508.0 231.67 L509.0 231.87 L510.0 232.07 L511.0 232.28 L512.0 232.48 L513.0 232.68 L514.0 232.88 L515.0 233.08 L516.0 233.27 L517.0 233.47 L518.0 233.67 L519.0 233.86 L520.0 234.06 L521.0 234.25 L522.0 234.45 L523.0 234.64 L524.0 234.83 L525.0 235.02 L526.0 235.21 L527.0 235.40 L528.0 235.58 L529.0 235.77 L530.0 235.96 L531.0 236.14 L532.0 236.33 L533.0 236.51 L534.0 236.69 L535.0 236.88 L536.0 237.06 L537.0 237.24 L538.0 237.42 L539.0 237.60 L540.0 237.78 L541.0 237.95 L542.0 238.13 L543.0 238.31 L544.0 238.48 L545.0 238.65 L546.0 238.83 L547.0 239.00 L548.0 239.17 L549.0 239.34 L550.0 239.51 L551.0 239.68 L552.0 239.85 L553.0 240.02 L554.0 240.19 L555.0 240.35 L556.0 240.52 L557.0 240.69 L558.0 240.85 L559.0 241.01 L560.0 241.18 L561.0 241.34 L562.0 241.50 L563.0 241.66 L564.0 241.82 L565.0 241.98 L566.0 242.14 L567.0 242.30 L568.0 242.46 L569.0 242.61 L570.0 242.77 L571.0 242.92 L572.0 243.08 L573.0 243.23 L574.0 243.38 L575.0 243.54 L576.0 243.69 L577.0 243.84 L578.0 243.99 L579.0 244.14 L580.0 244.29 L581.0 244.44 L582.0 244.59 L583.0 244.73 L584.0 244.88 L585.0 245.03 L586.0 245.17 L587.0 245.32 L588.0 245.46 L589.0 245.60 L590.0 245.75 L591.0 245.89 L592.0 246.03 L593.0 246.17 L594.0 246.31 L595.0 246.45 L596.0 246.59 L597.0 246.73 L598.0 246.87 L599.0 247.00 L600.0 247.14 L601.0 247.28 L602.0 247.41 L603.0 247.55 L604.0 247.68 L605.0 247.82 L606.0 247.95 L607.0 248.08 L608.0 248.21 L609.0 248.35 L610.0 248.48 L611.0 248.61 L612.0 248.74 L613.0 248.87 L614.0 249.00 L615.0 249.12 L616.0 249.25 L617.0 249.38 L618.0 249.51 L619.0 249.63 L620.0 249.76 L621.0 249.88 L622.0 250.01 L623.0 250.13 L624.0 250.25 L625.0 250.38 L626.0 250.50 L627.0 250.62 L628.0 250.74 L629.0 250.86 L630.0 250.98 L631.0 251.10 L632.0 251.22 L633.0 251.34 L634.0 251.46 L635.0 251.58 L636.0 251.69 L637.0 251.81 L638.0 251.93 L639.0 252.04 L640.0 252.16 L641.0 252.27 L642.0 252.39 L643.0 252.50 L644.0 252.61 L645.0 252.73 L646.0 252.84 L647.0 252.95 L648.0 253.06 L649.0 253.17 L650.0 253.28 L651.0 253.39 L652.0 253.50 L653.0 253.61 L654.0 253.72 L655.0 253.82 L656.0 253.93 L657.0 254.04 L658.0 254.14 L659.0 254.25 L660.0 254.36 L661.0 254.46 L662.0 254.56 L663.0 254.67 L664.0 254.77 L665.0 254.88 L666.0 254.98 L667.0 255.08 L668.0 255.18 L669.0 255.28 L670.0 255.38 L671.0 255.48 L672.0 255.58 L673.0 255.68 L674.0 255.78 L675.0 255.88 L676.0 255.98 L677.0 256.08 L678.0 256.17 L679.0 256.27 L680.0 256.37 L681.0 256.46 L682.0 256.56 L683.0 256.65 L684.0 256.75 L685.0 256.84 L686.0 256.93 L687.0 257.03 L688.0 257.12 L689.0 257.21 L690.0 257.30 L691.0 257.39 L692.0 257.49 L693.0 257.58 L694.0 257.67 L695.0 257.76 L696.0 257.85 L697.0 257.93 L698.0 258.02 L699.0 258.11 L700.0 258.20 L701.0 258.29 L702.0 258.37 L703.0 258.46 L704.0 258.55 L705.0 258.63 L706.0 258.72 L707.0 258.80 L708.0 258.89 L709.0 258.97 L710.0 259.06 L711.0 259.14 L712.0 259.22 L713.0 259.30 L714.0 259.39 L715.0 259.47 L716.0 259.55 L717.0 259.63 L718.0 259.71 L719.0 259.79 L720.0 259.87 L721.0 259.95 L722.0 260.03 L723.0 260.11 L724.0 260.19 L725.0 260.27 L726.0 260.34 L727.0 260.42 L728.0 260.50 L729.0 260.58 L730.0 260.65 L731.0 260.73 L732.0 260.80 L733.0 260.88 L734.0 260.95 L735.0 261.03 L736.0 261.10 L737.0 261.18 L738.0 261.25 L739.0 261.32 L740.0 261.40 L741.0 261.47 L742.0 261.54 L743.0 261.61 L744.0 261.68 L745.0 261.76 L746.0 261.83 L747.0 261.90 L748.0 261.97 L749.0 262.04 L750.0 262.11 L751.0 262.18 L752.0 262.25 L753.0 262.31 L754.0 262.38 L755.0 262.45 L756.0 262.52 L757.0 262.59 L758.0 262.65 L759.0 262.72 L760.0 262.79 L761.0 262.85 L762.0 262.92 L763.0 262.98 L764.0 263.05 L765.0 263.11 L766.0 263.18 L767.0 263.24 L768.0 263.31 L769.0 263.37 L770.0 263.43 L771.0 263.50 L772.0 263.56 L773.0 263.62 L774.0 263.69 L775.0 263.75 L776.0 263.81 L777.0 263.87 L778.0 263.93 L779.0 263.99 L780.0 264.05 L781.0 264.11 L782.0 264.17 L783.0 264.23 L784.0 264.29 L785.0 264.35 L786.0 264.41 L787.0 264.47 L788.0 264.53 L789.0 264.59 L790.0 264.65 L791.0 264.70 L792.0 264.76 L793.0 264.82 L794.0 264.88 L795.0 264.93 L796.0 264.99 L797.0 265.05 L798.0 265.10 L799.0 265.16 L800.0 265.21 L800.8 265.26" stroke="#0000ff" stroke-width="2.4" fill="none" stroke-linejoin="round" stroke-dasharray="16.2 15.945"/>
<path d="M47.2 251.70 L48.0 250.97 L49.0 250.04 L50.0 249.09 L51.0 248.11 L52.0 247.12 L53.0 246.11 L54.0 245.08 L55.0 244.03 L56.0 242.96 L57.0 241.88 L58.0 240.78 L59.0 239.67 L60.0 238.55 L61.0 237.41 L62.0 236.26 L63.0 235.10 L64.0 233.93 L65.0 232.75 L66.0 231.57 L67.0 230.37 L68.0 229.17 L69.0 227.96 L70.0 226.75 L71.0 225.53 L72.0 224.31 L73.0 223.09 L74.0 221.86 L75.0 220.63 L76.0 219.41 L77.0 218.18 L78.0 216.95 L79.0 215.73 L80.0 214.51 L81.0 213.30 L82.0 212.08 L83.0 210.88 L84.0 209.68 L85.0 208.49 L86.0 207.30 L87.0 206.13 L88.0 204.96 L89.0 203.81 L90.0 202.66 L91.0 201.52 L92.0 200.39 L93.0 199.24 L94.0 198.08 L95.0 196.91 L96.0 195.70 L97.0 194.47 L98.0 193.19 L99.0 191.87 L100.0 190.49 L101.0 189.07 L102.0 187.61 L103.0 186.13 L104.0 184.64 L105.0 183.17 L106.0 181.72 L107.0 180.32 L108.0 178.97 L109.0 177.70 L110.0 176.51 L111.0 175.38 L112.0 174.31 L113.0 173.27 L114.0 172.24 L115.0 171.22 L116.0 170.17 L117.0 169.10 L118.0 167.97 L119.0 166.78 L120.0 165.51 L121.0 164.16 L122.0 162.73 L123.0 161.24 L124.0 159.72 L125.0 158.17 L126.0 156.61 L127.0 155.06 L128.0 153.53 L129.0 152.03 L130.0 150.57 L131.0 149.14 L132.0 147.74 L133.0 146.36 L134.0 144.99 L135.0 143.65 L136.0 142.31 L137.0 140.98 L138.0 139.66 L139.0 138.34 L140.0 137.01 L141.0 135.68 L142.0 134.36 L143.0 133.03 L144.0 131.70 L145.0 130.36 L146.0 129.02 L147.0 127.68 L148.0 126.34 L149.0 125.00 L150.0 123.65 L151.0 122.30 L152.0 120.95 L153.0 119.61 L154.0 118.27 L155.0 116.93 L156.0 115.60 L157.0 114.28 L158.0 112.97 L159.0 111.66 L160.0 110.37 L161.0 109.08 L162.0 107.81 L163.0 106.55 L164.0 105.30 L165.0 104.07 L166.0 102.85 L167.0 101.64 L168.0 100.45 L169.0 99.27 L170.0 98.11 L171.0 96.97 L172.0 95.84 L173.0 94.74 L174.0 93.65 L175.0 92.58 L176.0 91.53 L177.0 90.50 L178.0 89.50 L179.0 88.51 L180.0 87.55 L181.0 86.61 L182.0 85.69 L183.0 84.80 L184.0 83.94 L185.0 83.10 L186.0 82.28 L187.0 81.50 L188.0 80.74 L189.0 80.01 L190.0 79.31 L191.0 78.63 L192.0 77.99 L193.0 77.38 L194.0 76.79 L195.0 76.24 L196.0 75.71 L197.0 75.21 L198.0 74.73 L199.0 74.29 L200.0 73.87 L201.0 73.48 L202.0 73.11 L203.0 72.77 L204.0 72.46 L205.0 72.17 L206.0 71.91 L207.0 71.67 L208.0 71.45 L209.0 71.26 L210.0 71.10 L211.0 70.95 L212.0 70.83 L213.0 70.74 L214.0 70.66 L215.0 70.61 L216.0 70.58 L217.0 70.58 L218.0 70.59 L219.0 70.63 L220.0 70.68 L221.0 70.76 L222.0 70.85 L223.0 70.97 L224.0 71.11 L225.0 71.26 L226.0 71.44 L227.0 71.63 L228.0 71.84 L229.0 72.07 L230.0 72.32 L231.0 72.58 L232.0 72.86 L233.0 73.16 L234.0 73.48 L235.0 73.81 L236.0 74.16 L237.0 74.52 L238.0 74.90 L239.0 75.29 L240.0 75.70 L241.0 76.12 L242.0 76.56 L243.0 77.01 L244.0 77.48 L245.0 77.95 L246.0 78.44 L247.0 78.94 L248.0 79.46 L249.0 79.99 L250.0 80.52 L251.0 81.07 L252.0 81.64 L253.0 82.21 L254.0 82.79 L255.0 83.38 L256.0 83.98 L257.0 84.59 L258.0 85.21 L259.0 85.84 L260.0 86.48 L261.0 87.12 L262.0 87.77 L263.0 88.43 L264.0 89.10 L265.0 89.77 L266.0 90.45 L267.0 91.13 L268.0 91.82 L269.0 92.52 L270.0 93.22 L271.0 93.92 L272.0 94.63 L273.0 95.34 L274.0 96.06 L275.0 96.78 L276.0 97.50 L277.0 98.22 L278.0 98.95 L279.0 99.67 L280.0 100.40 L281.0 101.13 L282.0 101.86 L283.0 102.59 L284.0 103.32 L285.0 104.05 L286.0 104.78 L287.0 105.51 L288.0 106.24 L289.0 106.96 L290.0 107.68 L291.0 108.40 L292.0 109.12 L293.0 109.83 L294.0 110.55 L295.0 111.25 L296.0 111.96 L297.0 112.66 L298.0 113.36 L299.0 114.06 L300.0 114.75 L301.0 115.44 L302.0 116.13 L303.0 116.82 L304.0 117.50 L305.0 118.18 L306.0 118.85 L307.0 119.53 L308.0 120.20 L309.0 120.87 L310.0 121.53 L311.0 122.19 L312.0 122.85 L313.0 123.51 L314.0 124.16 L315.0 124.81 L316.0 125.46 L317.0 126.11 L318.0 126.75 L319.0 127.39 L320.0 128.03 L321.0 128.66 L322.0 129.29 L323.0 129.92 L324.0 130.54 L325.0 131.17 L326.0 131.78 L327.0 132.40 L328.0 133.02 L329.0 133.63 L330.0 134.23 L331.0 134.84 L332.0 135.44 L333.0 136.04 L334.0 136.64 L335.0 137.23 L336.0 137.82 L337.0 138.41 L338.0 139.00 L339.0 139.58 L340.0 140.16 L341.0 140.74 L342.0 141.31 L343.0 141.88 L344.0 142.45 L345.0 143.02 L346.0 143.58 L347.0 144.14 L348.0 144.70 L349.0 145.25 L350.0 145.80 L351.0 146.35 L352.0 146.90 L353.0 147.44 L354.0 147.98 L355.0 148.52 L356.0 149.06 L357.0 149.59 L358.0 150.12 L359.0 150.64 L360.0 151.17 L361.0 151.69 L362.0 152.21 L363.0 152.72 L364.0 153.24 L365.0 153.75 L366.0 154.25 L367.0 154.76 L368.0 155.26 L369.0 155.76 L370.0 156.25 L371.0 156.75 L372.0 157.24 L373.0 157.73 L374.0 158.21 L375.0 158.69 L376.0 159.17 L377.0 159.65 L378.0 160.12 L379.0 160.60 L380.0 161.06 L381.0 161.53 L382.0 161.99 L383.0 162.45 L384.0 162.91 L385.0 163.37 L386.0 163.82 L387.0 164.27 L388.0 164.71 L389.0 165.16 L390.0 165.60 L391.0 166.04 L392.0 166.47 L393.0 166.91 L394.0 167.34 L395.0 167.77 L396.0 168.19 L397.0 168.61 L398.0 169.03 L399.0 169.45 L400.0 169.87 L401.0 170.28 L402.0 170.69 L403.0 171.10 L404.0 171.50 L405.0 171.90 L406.0 172.30 L407.0 172.70 L408.0 173.10 L409.0 173.49 L410.0 173.88 L411.0 174.27 L412.0 174.65 L413.0 175.04 L414.0 175.42 L415.0 175.80 L416.0 176.17 L417.0 176.55 L418.0 176.92 L419.0 177.29 L420.0 177.66 L421.0 178.02 L422.0 178.38 L423.0 178.75 L424.0 179.10 L425.0 179.46 L426.0 179.81 L427.0 180.17 L428.0 180.52 L429.0 180.86 L430.0 181.21 L431.0 181.55 L432.0 181.90 L433.0 182.24 L434.0 182.57 L435.0 182.91 L436.0 183.24 L437.0 183.57 L438.0 183.90 L439.0 184.23 L440.0 184.56 L441.0 184.88 L442.0 185.20 L443.0 185.52 L444.0 185.84 L445.0 186.16 L446.0 186.47 L447.0 186.79 L448.0 187.10 L449.0 187.41 L450.0 187.71 L451.0 188.02 L452.0 188.32 L453.0 188.63 L454.0 188.93 L455.0 189.23 L456.0 189.52 L457.0 189.82 L458.0 190.11 L459.0 190.41 L460.0 190.70 L461.0 190.99 L462.0 191.27 L463.0 191.56 L464.0 191.84 L465.0 192.13 L466.0 192.41 L467.0 192.69 L468.0 192.97 L469.0 193.24 L470.0 193.52 L471.0 193.79 L472.0 194.07 L473.0 194.34 L474.0 194.61 L475.0 194.88 L476.0 195.14 L477.0 195.41 L478.0 195.67 L479.0 195.94 L480.0 196.20 L481.0 196.46 L482.0 196.72 L483.0 196.98 L484.0 197.23 L485.0 197.49 L486.0 197.74 L487.0 198.00 L488.0 198.25 L489.0 198.50 L490.0 198.75 L491.0 199.00 L492.0 199.25 L493.0 199.49 L494.0 199.74 L495.0 199.98 L496.0 200.23 L497.0 200.47 L498.0 200.71 L499.0 200.95 L500.0 201.19 L501.0 201.43 L502.0 201.67 L503.0 201.90 L504.0 202.14 L505.0 202.37 L506.0 202.61 L507.0 202.84 L508.0 203.07 L509.0 203.30 L510.0 203.53 L511.0 203.76 L512.0 203.98 L513.0 204.21 L514.0 204.44 L515.0 204.66 L516.0 204.88 L517.0 205.11 L518.0 205.33 L519.0 205.55 L520.0 205.77 L521.0 205.98 L522.0 206.20 L523.0 206.42 L524.0 206.63 L525.0 206.85 L526.0 207.06 L527.0 207.27 L528.0 207.49 L529.0 207.70 L530.0 207.91 L531.0 208.12 L532.0 208.32 L533.0 208.53 L534.0 208.74 L535.0 208.94 L536.0 209.14 L537.0 209.35 L538.0 209.55 L539.0 209.75 L540.0 209.95 L541.0 210.15 L542.0 210.35 L543.0 210.55 L544.0 210.74 L545.0 210.94 L546.0 211.14 L547.0 211.33 L548.0 211.52 L549.0 211.71 L550.0 211.91 L551.0 212.10 L552.0 212.29 L553.0 212.47 L554.0 212.66 L555.0 212.85 L556.0 213.04 L557.0 213.22 L558.0 213.41 L559.0 213.59 L560.0 213.77 L561.0 213.95 L562.0 214.13 L563.0 214.31 L564.0 214.49 L565.0 214.67 L566.0 214.85 L567.0 215.03 L568.0 215.20 L569.0 215.38 L570.0 215.55 L571.0 215.72 L572.0 215.90 L573.0 216.07 L574.0 216.24 L575.0 216.41 L576.0 216.58 L577.0 216.75 L578.0 216.91 L579.0 217.08 L580.0 217.25 L581.0 217.41 L582.0 217.58 L583.0 217.74 L584.0 217.90 L585.0 218.06 L586.0 218.23 L587.0 218.39 L588.0 218.55 L589.0 218.70 L590.0 218.86 L591.0 219.02 L592.0 219.18 L593.0 219.33 L594.0 219.49 L595.0 219.64 L596.0 219.79 L597.0 219.95 L598.0 220.10 L599.0 220.25 L600.0 220.40 L601.0 220.55 L602.0 220.70 L603.0 220.85 L604.0 220.99 L605.0 221.14 L606.0 221.29 L607.0 221.43 L608.0 221.58 L609.0 221.72 L610.0 221.86 L611.0 222.01 L612.0 222.15 L613.0 222.29 L614.0 222.43 L615.0 222.57 L616.0 222.71 L617.0 222.85 L618.0 222.98 L619.0 223.12 L620.0 223.26 L621.0 223.39 L622.0 223.53 L623.0 223.66 L624.0 223.79 L625.0 223.93 L626.0 224.06 L627.0 224.19 L628.0 224.32 L629.0 224.45 L630.0 224.58 L631.0 224.71 L632.0 224.84 L633.0 224.96 L634.0 225.09 L635.0 225.22 L636.0 225.34 L637.0 225.47 L638.0 225.59 L639.0 225.71 L640.0 225.84 L641.0 225.96 L642.0 226.08 L643.0 226.20 L644.0 226.32 L645.0 226.44 L646.0 226.56 L647.0 226.68 L648.0 226.80 L649.0 226.92 L650.0 227.03 L651.0 227.15 L652.0 227.27 L653.0 227.38 L654.0 227.50 L655.0 227.61 L656.0 227.72 L657.0 227.84 L658.0 227.95 L659.0 228.06 L660.0 228.17 L661.0 228.28 L662.0 228.39 L663.0 228.50 L664.0 228.61 L665.0 228.72 L666.0 228.83 L667.0 228.94 L668.0 229.04 L669.0 229.15 L670.0 229.26 L671.0 229.36 L672.0 229.47 L673.0 229.57 L674.0 229.67 L675.0 229.78 L676.0 229.88 L677.0 229.98 L678.0 230.08 L679.0 230.19 L680.0 230.29 L681.0 230.39 L682.0 230.49 L683.0 230.59 L684.0 230.69 L685.0 230.78 L686.0 230.88 L687.0 230.98 L688.0 231.08 L689.0 231.17 L690.0 231.27 L691.0 231.37 L692.0 231.46 L693.0 231.56 L694.0 231.65 L695.0 231.74 L696.0 231.84 L697.0 231.93 L698.0 232.02 L699.0 232.12 L700.0 232.21 L701.0 232.30 L702.0 232.39 L703.0 232.48 L704.0 232.57 L705.0 232.66 L706.0 232.75 L707.0 232.84 L708.0 232.93 L709.0 233.02 L710.0 233.11 L711.0 233.19 L712.0 233.28 L713.0 233.37 L714.0 233.45 L715.0 233.54 L716.0 233.62 L717.0 233.71 L718.0 233.79 L719.0 233.88 L720.0 233.96 L721.0 234.05 L722.0 234.13 L723.0 234.21 L724.0 234.30 L725.0 234.38 L726.0 234.46 L727.0 234.54 L728.0 234.62 L729.0 234.71 L730.0 234.79 L731.0 234.87 L732.0 234.95 L733.0 235.03 L734.0 235.11 L735.0 235.19 L736.0 235.26 L737.0 235.34 L738.0 235.42 L739.0 235.50 L740.0 235.58 L741.0 235.66 L742.0 235.73 L743.0 235.81 L744.0 235.89 L745.0 235.96 L746.0 236.04 L747.0 236.11 L748.0 236.19 L749.0 236.27 L750.0 236.34 L751.0 236.42 L752.0 236.49 L753.0 236.56 L754.0 236.64 L755.0 236.71 L756.0 236.79 L757.0 236.86 L758.0 236.93 L759.0 237.01 L760.0 237.08 L761.0 237.15 L762.0 237.22 L763.0 237.30 L764.0 237.37 L765.0 237.44 L766.0 237.51 L767.0 237.58 L768.0 237.65 L769.0 237.72 L770.0 237.80 L771.0 237.87 L772.0 237.94 L773.0 238.01 L774.0 238.08 L775.0 238.15 L776.0 238.22 L777.0 238.29 L778.0 238.35 L779.0 238.42 L780.0 238.49 L781.0 238.56 L782.0 238.63 L783.0 238.70 L784.0 238.77 L785.0 238.84 L786.0 238.90 L787.0 238.97 L788.0 239.04 L789.0 239.11 L790.0 239.18 L791.0 239.24 L792.0 239.31 L793.0 239.38 L794.0 239.45 L795.0 239.51 L796.0 239.58 L797.0 239.65 L798.0 239.71 L799.0 239.78 L800.0 239.85 L800.8 239.90" stroke="#ff0000" stroke-width="2.4" fill="none" stroke-linejoin="round" stroke-dasharray="16.2 15.945"/>
<g opacity="0.999">
<text x="43.6" y="486.15" font-size="22.4" text-anchor="end" fill="#000">0.05</text>
<text x="43.6" y="390.15" font-size="22.4" text-anchor="end" fill="#000">0.10</text>
<text x="43.6" y="294.15" font-size="22.4" text-anchor="end" fill="#000">0.15</text>
<text x="43.6" y="198.15" font-size="22.4" text-anchor="end" fill="#000">0.20</text>
<text x="43.6" y="102.15" font-size="22.4" text-anchor="end" fill="#000">0.25</text>
<text x="198.15" y="541.0" font-size="22.4" text-anchor="middle" fill="#000">1</text>
<text x="348.50" y="541.0" font-size="22.4" text-anchor="middle" fill="#000">2</text>
<text x="498.85" y="541.0" font-size="22.4" text-anchor="middle" fill="#000">3</text>
<text x="649.20" y="541.0" font-size="22.4" text-anchor="middle" fill="#000">4</text>
<text x="799.55" y="541.0" font-size="22.4" text-anchor="middle" fill="#000">5</text>
<text transform="translate(24.8 30.0) scale(1.065 1)" x="0" y="0" font-size="30.6" font-weight="bold" font-style="italic" fill="#000">ρ</text>
<text x="44.3" y="16.0" font-size="22.4" font-weight="bold" fill="#000">eff</text>
<text x="826.4" y="527.0" font-size="31.5" font-weight="bold" fill="#000">t</text>
<text x="190.6" y="469.8" font-size="31" font-style="italic" fill="#000">t</text>
<text x="199.3" y="475.2" font-size="22.3" font-style="italic" fill="#000">b</text>
</g>
</svg>
</body></html>
